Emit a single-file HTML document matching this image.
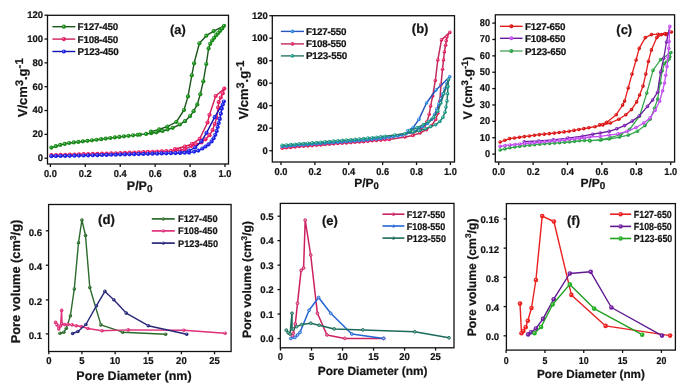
<!DOCTYPE html>
<html><head><meta charset="utf-8"><style>
html,body{margin:0;padding:0;background:#fff;}
svg{display:block;font-family:"Liberation Sans", sans-serif;filter:blur(0.3px);}
text{stroke:#141414;stroke-width:0.22px;text-rendering:geometricPrecision;}
</style></head><body>
<svg width="685" height="391" viewBox="0 0 685 391">
<rect width="685" height="391" fill="#fff"/>
<rect x="47.5" y="15.3" width="181" height="148.7" fill="none" stroke="#111" stroke-width="1.3"/>
<line x1="44.5" y1="158.2" x2="47.5" y2="158.2" stroke="#111" stroke-width="1.3"/>
<text x="43" y="161.1" font-size="9.5" text-anchor="end" font-weight="bold" fill="#141414">0</text>
<line x1="44.5" y1="134.37" x2="47.5" y2="134.37" stroke="#111" stroke-width="1.3"/>
<text x="43" y="137.27" font-size="9.5" text-anchor="end" font-weight="bold" fill="#141414">20</text>
<line x1="44.5" y1="110.53" x2="47.5" y2="110.53" stroke="#111" stroke-width="1.3"/>
<text x="43" y="113.43" font-size="9.5" text-anchor="end" font-weight="bold" fill="#141414">40</text>
<line x1="44.5" y1="86.7" x2="47.5" y2="86.7" stroke="#111" stroke-width="1.3"/>
<text x="43" y="89.6" font-size="9.5" text-anchor="end" font-weight="bold" fill="#141414">60</text>
<line x1="44.5" y1="62.86" x2="47.5" y2="62.86" stroke="#111" stroke-width="1.3"/>
<text x="43" y="65.76" font-size="9.5" text-anchor="end" font-weight="bold" fill="#141414">80</text>
<line x1="44.5" y1="39.03" x2="47.5" y2="39.03" stroke="#111" stroke-width="1.3"/>
<text x="43" y="41.93" font-size="9.5" text-anchor="end" font-weight="bold" fill="#141414">100</text>
<line x1="44.5" y1="15.2" x2="47.5" y2="15.2" stroke="#111" stroke-width="1.3"/>
<text x="43" y="18.1" font-size="9.5" text-anchor="end" font-weight="bold" fill="#141414">120</text>
<line x1="50.4" y1="164" x2="50.4" y2="167" stroke="#111" stroke-width="1.3"/>
<text x="0" y="0" font-size="10" text-anchor="middle" font-weight="bold" fill="#141414" transform="translate(50.4 176.7) scale(0.93 1)">0.0</text>
<line x1="85.32" y1="164" x2="85.32" y2="167" stroke="#111" stroke-width="1.3"/>
<text x="0" y="0" font-size="10" text-anchor="middle" font-weight="bold" fill="#141414" transform="translate(85.32 176.7) scale(0.93 1)">0.2</text>
<line x1="120.24" y1="164" x2="120.24" y2="167" stroke="#111" stroke-width="1.3"/>
<text x="0" y="0" font-size="10" text-anchor="middle" font-weight="bold" fill="#141414" transform="translate(120.24 176.7) scale(0.93 1)">0.4</text>
<line x1="155.16" y1="164" x2="155.16" y2="167" stroke="#111" stroke-width="1.3"/>
<text x="0" y="0" font-size="10" text-anchor="middle" font-weight="bold" fill="#141414" transform="translate(155.16 176.7) scale(0.93 1)">0.6</text>
<line x1="190.08" y1="164" x2="190.08" y2="167" stroke="#111" stroke-width="1.3"/>
<text x="0" y="0" font-size="10" text-anchor="middle" font-weight="bold" fill="#141414" transform="translate(190.08 176.7) scale(0.93 1)">0.8</text>
<line x1="225" y1="164" x2="225" y2="167" stroke="#111" stroke-width="1.3"/>
<text x="0" y="0" font-size="10" text-anchor="middle" font-weight="bold" fill="#141414" transform="translate(225 176.7) scale(0.93 1)">1.0</text>
<text x="126.8" y="189.5" font-size="12.5" text-anchor="start" font-weight="bold" fill="#141414">P/P<tspan font-size="10" dy="2.3">0</tspan></text>
<text x="0" y="0" font-size="13" text-anchor="middle" font-weight="bold" fill="#141414" transform="translate(27.2 87.7) rotate(-90)">V/cm<tspan font-size="11" dy="-4.2">3</tspan><tspan dy="4.2">.g</tspan><tspan font-size="11.5" dy="-4.2">-1</tspan></text>
<text x="170" y="33.7" font-size="12.8" text-anchor="start" font-weight="bold" fill="#141414">(a)</text>
<polyline points="51.4,147.6 58.3,145.4 69,143 84.3,141.2 99.7,139.4 115,137.4 130.4,135.6 140,134.6 146.1,133.9 151.2,133.2 156.4,132.3 162.5,131 167.6,129.5 172.7,127.8 179.9,124.5 185,121.2 190.1,116.1 193.6,111.2 197.3,104.4 200.3,94.2 203.3,81.3 206.3,64 208.6,48.4 210.2,43.8 212.2,40.5 214.2,37.8 216.2,35.2 218.2,33 220.2,30.8 222.2,28.5 224,25.8" fill="none" stroke="#1c561c" stroke-width="1.4" stroke-linejoin="round"/>
<polyline points="224,25.8 213.7,31.1 206.3,35.7 199.4,43.3 194.1,63.3 191.8,75.3 188,96.4 184,110 176.4,121.8 167.4,126.5 159.2,129.4 151,131.6" fill="none" stroke="#1c561c" stroke-width="1.4" stroke-linejoin="round"/>
<circle cx="51.4" cy="147.6" r="2.1" fill="#178a17"/>
<circle cx="50.9" cy="147.1" r="0.7" fill="#a8e4a8" fill-opacity="0.8"/>
<circle cx="55.78" cy="146.2" r="2.1" fill="#178a17"/>
<circle cx="55.28" cy="145.7" r="0.7" fill="#a8e4a8" fill-opacity="0.8"/>
<circle cx="60.21" cy="144.97" r="2.1" fill="#178a17"/>
<circle cx="59.71" cy="144.47" r="0.7" fill="#a8e4a8" fill-opacity="0.8"/>
<circle cx="64.7" cy="143.96" r="2.1" fill="#178a17"/>
<circle cx="64.2" cy="143.46" r="0.7" fill="#a8e4a8" fill-opacity="0.8"/>
<circle cx="69.19" cy="142.98" r="2.1" fill="#178a17"/>
<circle cx="68.69" cy="142.48" r="0.7" fill="#a8e4a8" fill-opacity="0.8"/>
<circle cx="73.76" cy="142.44" r="2.1" fill="#178a17"/>
<circle cx="73.26" cy="141.94" r="0.7" fill="#a8e4a8" fill-opacity="0.8"/>
<circle cx="78.33" cy="141.9" r="2.1" fill="#178a17"/>
<circle cx="77.83" cy="141.4" r="0.7" fill="#a8e4a8" fill-opacity="0.8"/>
<circle cx="82.9" cy="141.37" r="2.1" fill="#178a17"/>
<circle cx="82.4" cy="140.87" r="0.7" fill="#a8e4a8" fill-opacity="0.8"/>
<circle cx="87.46" cy="140.83" r="2.1" fill="#178a17"/>
<circle cx="86.96" cy="140.33" r="0.7" fill="#a8e4a8" fill-opacity="0.8"/>
<circle cx="92.03" cy="140.3" r="2.1" fill="#178a17"/>
<circle cx="91.53" cy="139.8" r="0.7" fill="#a8e4a8" fill-opacity="0.8"/>
<circle cx="96.6" cy="139.76" r="2.1" fill="#178a17"/>
<circle cx="96.1" cy="139.26" r="0.7" fill="#a8e4a8" fill-opacity="0.8"/>
<circle cx="101.17" cy="139.21" r="2.1" fill="#178a17"/>
<circle cx="100.67" cy="138.71" r="0.7" fill="#a8e4a8" fill-opacity="0.8"/>
<circle cx="105.73" cy="138.61" r="2.1" fill="#178a17"/>
<circle cx="105.23" cy="138.11" r="0.7" fill="#a8e4a8" fill-opacity="0.8"/>
<circle cx="110.29" cy="138.02" r="2.1" fill="#178a17"/>
<circle cx="109.79" cy="137.52" r="0.7" fill="#a8e4a8" fill-opacity="0.8"/>
<circle cx="114.85" cy="137.42" r="2.1" fill="#178a17"/>
<circle cx="114.35" cy="136.92" r="0.7" fill="#a8e4a8" fill-opacity="0.8"/>
<circle cx="119.42" cy="136.88" r="2.1" fill="#178a17"/>
<circle cx="118.92" cy="136.38" r="0.7" fill="#a8e4a8" fill-opacity="0.8"/>
<circle cx="123.99" cy="136.35" r="2.1" fill="#178a17"/>
<circle cx="123.49" cy="135.85" r="0.7" fill="#a8e4a8" fill-opacity="0.8"/>
<circle cx="128.56" cy="135.82" r="2.1" fill="#178a17"/>
<circle cx="128.06" cy="135.32" r="0.7" fill="#a8e4a8" fill-opacity="0.8"/>
<circle cx="133.13" cy="135.32" r="2.1" fill="#178a17"/>
<circle cx="132.63" cy="134.82" r="0.7" fill="#a8e4a8" fill-opacity="0.8"/>
<circle cx="137.71" cy="134.84" r="2.1" fill="#178a17"/>
<circle cx="137.21" cy="134.34" r="0.7" fill="#a8e4a8" fill-opacity="0.8"/>
<circle cx="140" cy="134.6" r="2.1" fill="#178a17"/>
<circle cx="139.5" cy="134.1" r="0.7" fill="#a8e4a8" fill-opacity="0.8"/>
<circle cx="146.1" cy="133.9" r="2.1" fill="#178a17"/>
<circle cx="145.6" cy="133.4" r="0.7" fill="#a8e4a8" fill-opacity="0.8"/>
<circle cx="151.2" cy="133.2" r="2.1" fill="#178a17"/>
<circle cx="150.7" cy="132.7" r="0.7" fill="#a8e4a8" fill-opacity="0.8"/>
<circle cx="156.4" cy="132.3" r="2.1" fill="#178a17"/>
<circle cx="155.9" cy="131.8" r="0.7" fill="#a8e4a8" fill-opacity="0.8"/>
<circle cx="162.5" cy="131" r="2.1" fill="#178a17"/>
<circle cx="162" cy="130.5" r="0.7" fill="#a8e4a8" fill-opacity="0.8"/>
<circle cx="167.6" cy="129.5" r="2.1" fill="#178a17"/>
<circle cx="167.1" cy="129" r="0.7" fill="#a8e4a8" fill-opacity="0.8"/>
<circle cx="172.7" cy="127.8" r="2.1" fill="#178a17"/>
<circle cx="172.2" cy="127.3" r="0.7" fill="#a8e4a8" fill-opacity="0.8"/>
<circle cx="179.9" cy="124.5" r="2.1" fill="#178a17"/>
<circle cx="179.4" cy="124" r="0.7" fill="#a8e4a8" fill-opacity="0.8"/>
<circle cx="185" cy="121.2" r="2.1" fill="#178a17"/>
<circle cx="184.5" cy="120.7" r="0.7" fill="#a8e4a8" fill-opacity="0.8"/>
<circle cx="190.1" cy="116.1" r="2.1" fill="#178a17"/>
<circle cx="189.6" cy="115.6" r="0.7" fill="#a8e4a8" fill-opacity="0.8"/>
<circle cx="193.6" cy="111.2" r="2.1" fill="#178a17"/>
<circle cx="193.1" cy="110.7" r="0.7" fill="#a8e4a8" fill-opacity="0.8"/>
<circle cx="197.3" cy="104.4" r="2.1" fill="#178a17"/>
<circle cx="196.8" cy="103.9" r="0.7" fill="#a8e4a8" fill-opacity="0.8"/>
<circle cx="200.3" cy="94.2" r="2.1" fill="#178a17"/>
<circle cx="199.8" cy="93.7" r="0.7" fill="#a8e4a8" fill-opacity="0.8"/>
<circle cx="203.3" cy="81.3" r="2.1" fill="#178a17"/>
<circle cx="202.8" cy="80.8" r="0.7" fill="#a8e4a8" fill-opacity="0.8"/>
<circle cx="206.3" cy="64" r="2.1" fill="#178a17"/>
<circle cx="205.8" cy="63.5" r="0.7" fill="#a8e4a8" fill-opacity="0.8"/>
<circle cx="208.6" cy="48.4" r="2.1" fill="#178a17"/>
<circle cx="208.1" cy="47.9" r="0.7" fill="#a8e4a8" fill-opacity="0.8"/>
<circle cx="210.2" cy="43.8" r="2.1" fill="#178a17"/>
<circle cx="209.7" cy="43.3" r="0.7" fill="#a8e4a8" fill-opacity="0.8"/>
<circle cx="212.2" cy="40.5" r="2.1" fill="#178a17"/>
<circle cx="211.7" cy="40" r="0.7" fill="#a8e4a8" fill-opacity="0.8"/>
<circle cx="214.2" cy="37.8" r="2.1" fill="#178a17"/>
<circle cx="213.7" cy="37.3" r="0.7" fill="#a8e4a8" fill-opacity="0.8"/>
<circle cx="216.2" cy="35.2" r="2.1" fill="#178a17"/>
<circle cx="215.7" cy="34.7" r="0.7" fill="#a8e4a8" fill-opacity="0.8"/>
<circle cx="218.2" cy="33" r="2.1" fill="#178a17"/>
<circle cx="217.7" cy="32.5" r="0.7" fill="#a8e4a8" fill-opacity="0.8"/>
<circle cx="220.2" cy="30.8" r="2.1" fill="#178a17"/>
<circle cx="219.7" cy="30.3" r="0.7" fill="#a8e4a8" fill-opacity="0.8"/>
<circle cx="222.2" cy="28.5" r="2.1" fill="#178a17"/>
<circle cx="221.7" cy="28" r="0.7" fill="#a8e4a8" fill-opacity="0.8"/>
<circle cx="224" cy="25.8" r="2.1" fill="#178a17"/>
<circle cx="223.5" cy="25.3" r="0.7" fill="#a8e4a8" fill-opacity="0.8"/>
<circle cx="213.7" cy="31.1" r="2.1" fill="#178a17"/>
<circle cx="213.2" cy="30.6" r="0.7" fill="#a8e4a8" fill-opacity="0.8"/>
<circle cx="206.3" cy="35.7" r="2.1" fill="#178a17"/>
<circle cx="205.8" cy="35.2" r="0.7" fill="#a8e4a8" fill-opacity="0.8"/>
<circle cx="199.4" cy="43.3" r="2.1" fill="#178a17"/>
<circle cx="198.9" cy="42.8" r="0.7" fill="#a8e4a8" fill-opacity="0.8"/>
<circle cx="194.1" cy="63.3" r="2.1" fill="#178a17"/>
<circle cx="193.6" cy="62.8" r="0.7" fill="#a8e4a8" fill-opacity="0.8"/>
<circle cx="191.8" cy="75.3" r="2.1" fill="#178a17"/>
<circle cx="191.3" cy="74.8" r="0.7" fill="#a8e4a8" fill-opacity="0.8"/>
<circle cx="188" cy="96.4" r="2.1" fill="#178a17"/>
<circle cx="187.5" cy="95.9" r="0.7" fill="#a8e4a8" fill-opacity="0.8"/>
<circle cx="184" cy="110" r="2.1" fill="#178a17"/>
<circle cx="183.5" cy="109.5" r="0.7" fill="#a8e4a8" fill-opacity="0.8"/>
<circle cx="176.4" cy="121.8" r="2.1" fill="#178a17"/>
<circle cx="175.9" cy="121.3" r="0.7" fill="#a8e4a8" fill-opacity="0.8"/>
<circle cx="167.4" cy="126.5" r="2.1" fill="#178a17"/>
<circle cx="166.9" cy="126" r="0.7" fill="#a8e4a8" fill-opacity="0.8"/>
<circle cx="159.2" cy="129.4" r="2.1" fill="#178a17"/>
<circle cx="158.7" cy="128.9" r="0.7" fill="#a8e4a8" fill-opacity="0.8"/>
<circle cx="151" cy="131.6" r="2.1" fill="#178a17"/>
<circle cx="150.5" cy="131.1" r="0.7" fill="#a8e4a8" fill-opacity="0.8"/>
<polyline points="51.4,155.2 80,154.3 110,153.5 140,152.3 170,151 185,149.5 191.1,145.9 196.2,144.4 201.4,142.4 205.5,139.3 209.5,135.2 212.6,130.1 214.7,124 216.7,117.8 218.1,107.6 218.7,102.1 220.8,97.5 222.8,93.3 224.3,88.6" fill="none" stroke="#cc2058" stroke-width="1.4" stroke-linejoin="round"/>
<polyline points="224.3,88.6 215.7,96 209.5,114.8 207.5,122.5 199.7,138.9 192.2,143.8 185,146.5 175,149" fill="none" stroke="#cc2058" stroke-width="1.4" stroke-linejoin="round"/>
<circle cx="51.4" cy="155.2" r="2.1" fill="#ea1c64"/>
<circle cx="50.9" cy="154.7" r="0.7" fill="#ffc0d4" fill-opacity="0.8"/>
<circle cx="56" cy="155.06" r="2.1" fill="#ea1c64"/>
<circle cx="55.5" cy="154.56" r="0.7" fill="#ffc0d4" fill-opacity="0.8"/>
<circle cx="60.6" cy="154.91" r="2.1" fill="#ea1c64"/>
<circle cx="60.1" cy="154.41" r="0.7" fill="#ffc0d4" fill-opacity="0.8"/>
<circle cx="65.19" cy="154.77" r="2.1" fill="#ea1c64"/>
<circle cx="64.69" cy="154.27" r="0.7" fill="#ffc0d4" fill-opacity="0.8"/>
<circle cx="69.79" cy="154.62" r="2.1" fill="#ea1c64"/>
<circle cx="69.29" cy="154.12" r="0.7" fill="#ffc0d4" fill-opacity="0.8"/>
<circle cx="74.39" cy="154.48" r="2.1" fill="#ea1c64"/>
<circle cx="73.89" cy="153.98" r="0.7" fill="#ffc0d4" fill-opacity="0.8"/>
<circle cx="78.99" cy="154.33" r="2.1" fill="#ea1c64"/>
<circle cx="78.49" cy="153.83" r="0.7" fill="#ffc0d4" fill-opacity="0.8"/>
<circle cx="83.58" cy="154.2" r="2.1" fill="#ea1c64"/>
<circle cx="83.08" cy="153.7" r="0.7" fill="#ffc0d4" fill-opacity="0.8"/>
<circle cx="88.18" cy="154.08" r="2.1" fill="#ea1c64"/>
<circle cx="87.68" cy="153.58" r="0.7" fill="#ffc0d4" fill-opacity="0.8"/>
<circle cx="92.78" cy="153.96" r="2.1" fill="#ea1c64"/>
<circle cx="92.28" cy="153.46" r="0.7" fill="#ffc0d4" fill-opacity="0.8"/>
<circle cx="97.38" cy="153.84" r="2.1" fill="#ea1c64"/>
<circle cx="96.88" cy="153.34" r="0.7" fill="#ffc0d4" fill-opacity="0.8"/>
<circle cx="101.98" cy="153.71" r="2.1" fill="#ea1c64"/>
<circle cx="101.48" cy="153.21" r="0.7" fill="#ffc0d4" fill-opacity="0.8"/>
<circle cx="106.58" cy="153.59" r="2.1" fill="#ea1c64"/>
<circle cx="106.08" cy="153.09" r="0.7" fill="#ffc0d4" fill-opacity="0.8"/>
<circle cx="111.17" cy="153.45" r="2.1" fill="#ea1c64"/>
<circle cx="110.67" cy="152.95" r="0.7" fill="#ffc0d4" fill-opacity="0.8"/>
<circle cx="115.77" cy="153.27" r="2.1" fill="#ea1c64"/>
<circle cx="115.27" cy="152.77" r="0.7" fill="#ffc0d4" fill-opacity="0.8"/>
<circle cx="120.37" cy="153.09" r="2.1" fill="#ea1c64"/>
<circle cx="119.87" cy="152.59" r="0.7" fill="#ffc0d4" fill-opacity="0.8"/>
<circle cx="124.96" cy="152.9" r="2.1" fill="#ea1c64"/>
<circle cx="124.46" cy="152.4" r="0.7" fill="#ffc0d4" fill-opacity="0.8"/>
<circle cx="129.56" cy="152.72" r="2.1" fill="#ea1c64"/>
<circle cx="129.06" cy="152.22" r="0.7" fill="#ffc0d4" fill-opacity="0.8"/>
<circle cx="134.16" cy="152.53" r="2.1" fill="#ea1c64"/>
<circle cx="133.66" cy="152.03" r="0.7" fill="#ffc0d4" fill-opacity="0.8"/>
<circle cx="138.75" cy="152.35" r="2.1" fill="#ea1c64"/>
<circle cx="138.25" cy="151.85" r="0.7" fill="#ffc0d4" fill-opacity="0.8"/>
<circle cx="143.35" cy="152.15" r="2.1" fill="#ea1c64"/>
<circle cx="142.85" cy="151.65" r="0.7" fill="#ffc0d4" fill-opacity="0.8"/>
<circle cx="147.94" cy="151.96" r="2.1" fill="#ea1c64"/>
<circle cx="147.44" cy="151.46" r="0.7" fill="#ffc0d4" fill-opacity="0.8"/>
<circle cx="152.54" cy="151.76" r="2.1" fill="#ea1c64"/>
<circle cx="152.04" cy="151.26" r="0.7" fill="#ffc0d4" fill-opacity="0.8"/>
<circle cx="157.14" cy="151.56" r="2.1" fill="#ea1c64"/>
<circle cx="156.64" cy="151.06" r="0.7" fill="#ffc0d4" fill-opacity="0.8"/>
<circle cx="161.73" cy="151.36" r="2.1" fill="#ea1c64"/>
<circle cx="161.23" cy="150.86" r="0.7" fill="#ffc0d4" fill-opacity="0.8"/>
<circle cx="166.33" cy="151.16" r="2.1" fill="#ea1c64"/>
<circle cx="165.83" cy="150.66" r="0.7" fill="#ffc0d4" fill-opacity="0.8"/>
<circle cx="170.92" cy="150.91" r="2.1" fill="#ea1c64"/>
<circle cx="170.42" cy="150.41" r="0.7" fill="#ffc0d4" fill-opacity="0.8"/>
<circle cx="175.5" cy="150.45" r="2.1" fill="#ea1c64"/>
<circle cx="175" cy="149.95" r="0.7" fill="#ffc0d4" fill-opacity="0.8"/>
<circle cx="180.07" cy="149.99" r="2.1" fill="#ea1c64"/>
<circle cx="179.57" cy="149.49" r="0.7" fill="#ffc0d4" fill-opacity="0.8"/>
<circle cx="184.65" cy="149.54" r="2.1" fill="#ea1c64"/>
<circle cx="184.15" cy="149.04" r="0.7" fill="#ffc0d4" fill-opacity="0.8"/>
<circle cx="191.1" cy="145.9" r="2.1" fill="#ea1c64"/>
<circle cx="190.6" cy="145.4" r="0.7" fill="#ffc0d4" fill-opacity="0.8"/>
<circle cx="196.2" cy="144.4" r="2.1" fill="#ea1c64"/>
<circle cx="195.7" cy="143.9" r="0.7" fill="#ffc0d4" fill-opacity="0.8"/>
<circle cx="201.4" cy="142.4" r="2.1" fill="#ea1c64"/>
<circle cx="200.9" cy="141.9" r="0.7" fill="#ffc0d4" fill-opacity="0.8"/>
<circle cx="205.5" cy="139.3" r="2.1" fill="#ea1c64"/>
<circle cx="205" cy="138.8" r="0.7" fill="#ffc0d4" fill-opacity="0.8"/>
<circle cx="209.5" cy="135.2" r="2.1" fill="#ea1c64"/>
<circle cx="209" cy="134.7" r="0.7" fill="#ffc0d4" fill-opacity="0.8"/>
<circle cx="212.6" cy="130.1" r="2.1" fill="#ea1c64"/>
<circle cx="212.1" cy="129.6" r="0.7" fill="#ffc0d4" fill-opacity="0.8"/>
<circle cx="214.7" cy="124" r="2.1" fill="#ea1c64"/>
<circle cx="214.2" cy="123.5" r="0.7" fill="#ffc0d4" fill-opacity="0.8"/>
<circle cx="216.7" cy="117.8" r="2.1" fill="#ea1c64"/>
<circle cx="216.2" cy="117.3" r="0.7" fill="#ffc0d4" fill-opacity="0.8"/>
<circle cx="218.1" cy="107.6" r="2.1" fill="#ea1c64"/>
<circle cx="217.6" cy="107.1" r="0.7" fill="#ffc0d4" fill-opacity="0.8"/>
<circle cx="218.7" cy="102.1" r="2.1" fill="#ea1c64"/>
<circle cx="218.2" cy="101.6" r="0.7" fill="#ffc0d4" fill-opacity="0.8"/>
<circle cx="220.8" cy="97.5" r="2.1" fill="#ea1c64"/>
<circle cx="220.3" cy="97" r="0.7" fill="#ffc0d4" fill-opacity="0.8"/>
<circle cx="222.8" cy="93.3" r="2.1" fill="#ea1c64"/>
<circle cx="222.3" cy="92.8" r="0.7" fill="#ffc0d4" fill-opacity="0.8"/>
<circle cx="224.3" cy="88.6" r="2.1" fill="#ea1c64"/>
<circle cx="223.8" cy="88.1" r="0.7" fill="#ffc0d4" fill-opacity="0.8"/>
<circle cx="215.7" cy="96" r="2.1" fill="#ea1c64"/>
<circle cx="215.2" cy="95.5" r="0.7" fill="#ffc0d4" fill-opacity="0.8"/>
<circle cx="209.5" cy="114.8" r="2.1" fill="#ea1c64"/>
<circle cx="209" cy="114.3" r="0.7" fill="#ffc0d4" fill-opacity="0.8"/>
<circle cx="207.5" cy="122.5" r="2.1" fill="#ea1c64"/>
<circle cx="207" cy="122" r="0.7" fill="#ffc0d4" fill-opacity="0.8"/>
<circle cx="199.7" cy="138.9" r="2.1" fill="#ea1c64"/>
<circle cx="199.2" cy="138.4" r="0.7" fill="#ffc0d4" fill-opacity="0.8"/>
<circle cx="192.2" cy="143.8" r="2.1" fill="#ea1c64"/>
<circle cx="191.7" cy="143.3" r="0.7" fill="#ffc0d4" fill-opacity="0.8"/>
<circle cx="185" cy="146.5" r="2.1" fill="#ea1c64"/>
<circle cx="184.5" cy="146" r="0.7" fill="#ffc0d4" fill-opacity="0.8"/>
<circle cx="175" cy="149" r="2.1" fill="#ea1c64"/>
<circle cx="174.5" cy="148.5" r="0.7" fill="#ffc0d4" fill-opacity="0.8"/>
<polyline points="51.4,156.2 80,155.6 110,154.8 140,154 170,153.2 189.1,152.6 194.2,151.6 198.3,150.6 202.4,148.5 205.5,146.5 208.5,144.4 211.6,141.4 213.6,138.3 215.3,134.8 216.7,131.1 217.7,127 218.7,123 219.8,118.9 220.8,113.7 221.8,108.6 222.8,104.5 223.9,101.5" fill="none" stroke="#1212b4" stroke-width="1.4" stroke-linejoin="round"/>
<polyline points="223.9,101.5 214.7,117.2 206.5,132.8 201.4,141.4 195.2,147.5 189.1,150.6 180,152.5" fill="none" stroke="#1212b4" stroke-width="1.4" stroke-linejoin="round"/>
<circle cx="51.4" cy="156.2" r="2.1" fill="#1e22e6"/>
<circle cx="50.9" cy="155.7" r="0.7" fill="#b0b8ff" fill-opacity="0.8"/>
<circle cx="56" cy="156.1" r="2.1" fill="#1e22e6"/>
<circle cx="55.5" cy="155.6" r="0.7" fill="#b0b8ff" fill-opacity="0.8"/>
<circle cx="60.6" cy="156.01" r="2.1" fill="#1e22e6"/>
<circle cx="60.1" cy="155.51" r="0.7" fill="#b0b8ff" fill-opacity="0.8"/>
<circle cx="65.2" cy="155.91" r="2.1" fill="#1e22e6"/>
<circle cx="64.7" cy="155.41" r="0.7" fill="#b0b8ff" fill-opacity="0.8"/>
<circle cx="69.8" cy="155.81" r="2.1" fill="#1e22e6"/>
<circle cx="69.3" cy="155.31" r="0.7" fill="#b0b8ff" fill-opacity="0.8"/>
<circle cx="74.39" cy="155.72" r="2.1" fill="#1e22e6"/>
<circle cx="73.89" cy="155.22" r="0.7" fill="#b0b8ff" fill-opacity="0.8"/>
<circle cx="78.99" cy="155.62" r="2.1" fill="#1e22e6"/>
<circle cx="78.49" cy="155.12" r="0.7" fill="#b0b8ff" fill-opacity="0.8"/>
<circle cx="83.59" cy="155.5" r="2.1" fill="#1e22e6"/>
<circle cx="83.09" cy="155" r="0.7" fill="#b0b8ff" fill-opacity="0.8"/>
<circle cx="88.19" cy="155.38" r="2.1" fill="#1e22e6"/>
<circle cx="87.69" cy="154.88" r="0.7" fill="#b0b8ff" fill-opacity="0.8"/>
<circle cx="92.79" cy="155.26" r="2.1" fill="#1e22e6"/>
<circle cx="92.29" cy="154.76" r="0.7" fill="#b0b8ff" fill-opacity="0.8"/>
<circle cx="97.39" cy="155.14" r="2.1" fill="#1e22e6"/>
<circle cx="96.89" cy="154.64" r="0.7" fill="#b0b8ff" fill-opacity="0.8"/>
<circle cx="101.99" cy="155.01" r="2.1" fill="#1e22e6"/>
<circle cx="101.49" cy="154.51" r="0.7" fill="#b0b8ff" fill-opacity="0.8"/>
<circle cx="106.58" cy="154.89" r="2.1" fill="#1e22e6"/>
<circle cx="106.08" cy="154.39" r="0.7" fill="#b0b8ff" fill-opacity="0.8"/>
<circle cx="111.18" cy="154.77" r="2.1" fill="#1e22e6"/>
<circle cx="110.68" cy="154.27" r="0.7" fill="#b0b8ff" fill-opacity="0.8"/>
<circle cx="115.78" cy="154.65" r="2.1" fill="#1e22e6"/>
<circle cx="115.28" cy="154.15" r="0.7" fill="#b0b8ff" fill-opacity="0.8"/>
<circle cx="120.38" cy="154.52" r="2.1" fill="#1e22e6"/>
<circle cx="119.88" cy="154.02" r="0.7" fill="#b0b8ff" fill-opacity="0.8"/>
<circle cx="124.98" cy="154.4" r="2.1" fill="#1e22e6"/>
<circle cx="124.48" cy="153.9" r="0.7" fill="#b0b8ff" fill-opacity="0.8"/>
<circle cx="129.58" cy="154.28" r="2.1" fill="#1e22e6"/>
<circle cx="129.08" cy="153.78" r="0.7" fill="#b0b8ff" fill-opacity="0.8"/>
<circle cx="134.17" cy="154.16" r="2.1" fill="#1e22e6"/>
<circle cx="133.67" cy="153.66" r="0.7" fill="#b0b8ff" fill-opacity="0.8"/>
<circle cx="138.77" cy="154.03" r="2.1" fill="#1e22e6"/>
<circle cx="138.27" cy="153.53" r="0.7" fill="#b0b8ff" fill-opacity="0.8"/>
<circle cx="143.37" cy="153.91" r="2.1" fill="#1e22e6"/>
<circle cx="142.87" cy="153.41" r="0.7" fill="#b0b8ff" fill-opacity="0.8"/>
<circle cx="147.97" cy="153.79" r="2.1" fill="#1e22e6"/>
<circle cx="147.47" cy="153.29" r="0.7" fill="#b0b8ff" fill-opacity="0.8"/>
<circle cx="152.57" cy="153.66" r="2.1" fill="#1e22e6"/>
<circle cx="152.07" cy="153.16" r="0.7" fill="#b0b8ff" fill-opacity="0.8"/>
<circle cx="157.17" cy="153.54" r="2.1" fill="#1e22e6"/>
<circle cx="156.67" cy="153.04" r="0.7" fill="#b0b8ff" fill-opacity="0.8"/>
<circle cx="161.76" cy="153.42" r="2.1" fill="#1e22e6"/>
<circle cx="161.26" cy="152.92" r="0.7" fill="#b0b8ff" fill-opacity="0.8"/>
<circle cx="166.36" cy="153.3" r="2.1" fill="#1e22e6"/>
<circle cx="165.86" cy="152.8" r="0.7" fill="#b0b8ff" fill-opacity="0.8"/>
<circle cx="170.96" cy="153.17" r="2.1" fill="#1e22e6"/>
<circle cx="170.46" cy="152.67" r="0.7" fill="#b0b8ff" fill-opacity="0.8"/>
<circle cx="175.56" cy="153.03" r="2.1" fill="#1e22e6"/>
<circle cx="175.06" cy="152.53" r="0.7" fill="#b0b8ff" fill-opacity="0.8"/>
<circle cx="180.16" cy="152.88" r="2.1" fill="#1e22e6"/>
<circle cx="179.66" cy="152.38" r="0.7" fill="#b0b8ff" fill-opacity="0.8"/>
<circle cx="184.75" cy="152.74" r="2.1" fill="#1e22e6"/>
<circle cx="184.25" cy="152.24" r="0.7" fill="#b0b8ff" fill-opacity="0.8"/>
<circle cx="189.1" cy="152.6" r="2.1" fill="#1e22e6"/>
<circle cx="188.6" cy="152.1" r="0.7" fill="#b0b8ff" fill-opacity="0.8"/>
<circle cx="194.2" cy="151.6" r="2.1" fill="#1e22e6"/>
<circle cx="193.7" cy="151.1" r="0.7" fill="#b0b8ff" fill-opacity="0.8"/>
<circle cx="198.3" cy="150.6" r="2.1" fill="#1e22e6"/>
<circle cx="197.8" cy="150.1" r="0.7" fill="#b0b8ff" fill-opacity="0.8"/>
<circle cx="202.4" cy="148.5" r="2.1" fill="#1e22e6"/>
<circle cx="201.9" cy="148" r="0.7" fill="#b0b8ff" fill-opacity="0.8"/>
<circle cx="205.5" cy="146.5" r="2.1" fill="#1e22e6"/>
<circle cx="205" cy="146" r="0.7" fill="#b0b8ff" fill-opacity="0.8"/>
<circle cx="208.5" cy="144.4" r="2.1" fill="#1e22e6"/>
<circle cx="208" cy="143.9" r="0.7" fill="#b0b8ff" fill-opacity="0.8"/>
<circle cx="211.6" cy="141.4" r="2.1" fill="#1e22e6"/>
<circle cx="211.1" cy="140.9" r="0.7" fill="#b0b8ff" fill-opacity="0.8"/>
<circle cx="213.6" cy="138.3" r="2.1" fill="#1e22e6"/>
<circle cx="213.1" cy="137.8" r="0.7" fill="#b0b8ff" fill-opacity="0.8"/>
<circle cx="215.3" cy="134.8" r="2.1" fill="#1e22e6"/>
<circle cx="214.8" cy="134.3" r="0.7" fill="#b0b8ff" fill-opacity="0.8"/>
<circle cx="216.7" cy="131.1" r="2.1" fill="#1e22e6"/>
<circle cx="216.2" cy="130.6" r="0.7" fill="#b0b8ff" fill-opacity="0.8"/>
<circle cx="217.7" cy="127" r="2.1" fill="#1e22e6"/>
<circle cx="217.2" cy="126.5" r="0.7" fill="#b0b8ff" fill-opacity="0.8"/>
<circle cx="218.7" cy="123" r="2.1" fill="#1e22e6"/>
<circle cx="218.2" cy="122.5" r="0.7" fill="#b0b8ff" fill-opacity="0.8"/>
<circle cx="219.8" cy="118.9" r="2.1" fill="#1e22e6"/>
<circle cx="219.3" cy="118.4" r="0.7" fill="#b0b8ff" fill-opacity="0.8"/>
<circle cx="220.8" cy="113.7" r="2.1" fill="#1e22e6"/>
<circle cx="220.3" cy="113.2" r="0.7" fill="#b0b8ff" fill-opacity="0.8"/>
<circle cx="221.8" cy="108.6" r="2.1" fill="#1e22e6"/>
<circle cx="221.3" cy="108.1" r="0.7" fill="#b0b8ff" fill-opacity="0.8"/>
<circle cx="222.8" cy="104.5" r="2.1" fill="#1e22e6"/>
<circle cx="222.3" cy="104" r="0.7" fill="#b0b8ff" fill-opacity="0.8"/>
<circle cx="223.9" cy="101.5" r="2.1" fill="#1e22e6"/>
<circle cx="223.4" cy="101" r="0.7" fill="#b0b8ff" fill-opacity="0.8"/>
<circle cx="214.7" cy="117.2" r="2.1" fill="#1e22e6"/>
<circle cx="214.2" cy="116.7" r="0.7" fill="#b0b8ff" fill-opacity="0.8"/>
<circle cx="206.5" cy="132.8" r="2.1" fill="#1e22e6"/>
<circle cx="206" cy="132.3" r="0.7" fill="#b0b8ff" fill-opacity="0.8"/>
<circle cx="201.4" cy="141.4" r="2.1" fill="#1e22e6"/>
<circle cx="200.9" cy="140.9" r="0.7" fill="#b0b8ff" fill-opacity="0.8"/>
<circle cx="195.2" cy="147.5" r="2.1" fill="#1e22e6"/>
<circle cx="194.7" cy="147" r="0.7" fill="#b0b8ff" fill-opacity="0.8"/>
<circle cx="189.1" cy="150.6" r="2.1" fill="#1e22e6"/>
<circle cx="188.6" cy="150.1" r="0.7" fill="#b0b8ff" fill-opacity="0.8"/>
<circle cx="180" cy="152.5" r="2.1" fill="#1e22e6"/>
<circle cx="179.5" cy="152" r="0.7" fill="#b0b8ff" fill-opacity="0.8"/>
<line x1="52.4" y1="26.7" x2="75.3" y2="26.7" stroke="#1c561c" stroke-width="1.4"/>
<circle cx="63.85" cy="26.7" r="2.1" fill="#178a17"/>
<circle cx="63.35" cy="26.2" r="0.7" fill="#a8e4a8" fill-opacity="0.8"/>
<text x="77.6" y="30.2" font-size="9.8" text-anchor="start" font-weight="bold" fill="#141414" letter-spacing="-0.2">F127-450</text>
<line x1="52.4" y1="39.1" x2="75.3" y2="39.1" stroke="#cc2058" stroke-width="1.4"/>
<circle cx="63.85" cy="39.1" r="2.1" fill="#ea1c64"/>
<circle cx="63.35" cy="38.6" r="0.7" fill="#ffc0d4" fill-opacity="0.8"/>
<text x="77.6" y="42.6" font-size="9.8" text-anchor="start" font-weight="bold" fill="#141414" letter-spacing="-0.2">F108-450</text>
<line x1="52.4" y1="51.5" x2="75.3" y2="51.5" stroke="#1212b4" stroke-width="1.4"/>
<circle cx="63.85" cy="51.5" r="2.1" fill="#1e22e6"/>
<circle cx="63.35" cy="51" r="0.7" fill="#b0b8ff" fill-opacity="0.8"/>
<text x="77.6" y="55" font-size="9.8" text-anchor="start" font-weight="bold" fill="#141414" letter-spacing="-0.2">P123-450</text>
<rect x="272.3" y="15.7" width="182.2" height="146.3" fill="none" stroke="#111" stroke-width="1.3"/>
<line x1="269.3" y1="150.7" x2="272.3" y2="150.7" stroke="#111" stroke-width="1.3"/>
<text x="267.8" y="153.6" font-size="9.5" text-anchor="end" font-weight="bold" fill="#141414">0</text>
<line x1="269.3" y1="128.2" x2="272.3" y2="128.2" stroke="#111" stroke-width="1.3"/>
<text x="267.8" y="131.1" font-size="9.5" text-anchor="end" font-weight="bold" fill="#141414">20</text>
<line x1="269.3" y1="105.7" x2="272.3" y2="105.7" stroke="#111" stroke-width="1.3"/>
<text x="267.8" y="108.6" font-size="9.5" text-anchor="end" font-weight="bold" fill="#141414">40</text>
<line x1="269.3" y1="83.2" x2="272.3" y2="83.2" stroke="#111" stroke-width="1.3"/>
<text x="267.8" y="86.1" font-size="9.5" text-anchor="end" font-weight="bold" fill="#141414">60</text>
<line x1="269.3" y1="60.7" x2="272.3" y2="60.7" stroke="#111" stroke-width="1.3"/>
<text x="267.8" y="63.6" font-size="9.5" text-anchor="end" font-weight="bold" fill="#141414">80</text>
<line x1="269.3" y1="38.2" x2="272.3" y2="38.2" stroke="#111" stroke-width="1.3"/>
<text x="267.8" y="41.1" font-size="9.5" text-anchor="end" font-weight="bold" fill="#141414">100</text>
<line x1="269.3" y1="15.7" x2="272.3" y2="15.7" stroke="#111" stroke-width="1.3"/>
<text x="267.8" y="18.6" font-size="9.5" text-anchor="end" font-weight="bold" fill="#141414">120</text>
<line x1="281" y1="162" x2="281" y2="165" stroke="#111" stroke-width="1.3"/>
<text x="0" y="0" font-size="10" text-anchor="middle" font-weight="bold" fill="#141414" transform="translate(281 174.6) scale(0.93 1)">0.0</text>
<line x1="314.88" y1="162" x2="314.88" y2="165" stroke="#111" stroke-width="1.3"/>
<text x="0" y="0" font-size="10" text-anchor="middle" font-weight="bold" fill="#141414" transform="translate(314.88 174.6) scale(0.93 1)">0.2</text>
<line x1="348.76" y1="162" x2="348.76" y2="165" stroke="#111" stroke-width="1.3"/>
<text x="0" y="0" font-size="10" text-anchor="middle" font-weight="bold" fill="#141414" transform="translate(348.76 174.6) scale(0.93 1)">0.4</text>
<line x1="382.64" y1="162" x2="382.64" y2="165" stroke="#111" stroke-width="1.3"/>
<text x="0" y="0" font-size="10" text-anchor="middle" font-weight="bold" fill="#141414" transform="translate(382.64 174.6) scale(0.93 1)">0.6</text>
<line x1="416.52" y1="162" x2="416.52" y2="165" stroke="#111" stroke-width="1.3"/>
<text x="0" y="0" font-size="10" text-anchor="middle" font-weight="bold" fill="#141414" transform="translate(416.52 174.6) scale(0.93 1)">0.8</text>
<line x1="450.4" y1="162" x2="450.4" y2="165" stroke="#111" stroke-width="1.3"/>
<text x="0" y="0" font-size="10" text-anchor="middle" font-weight="bold" fill="#141414" transform="translate(450.4 174.6) scale(0.93 1)">1.0</text>
<text x="354.2" y="186.6" font-size="12" text-anchor="start" font-weight="bold" fill="#141414">P/P<tspan font-size="9.5" dy="2.3">0</tspan></text>
<text x="0" y="0" font-size="13" text-anchor="middle" font-weight="bold" fill="#141414" transform="translate(248.4 90.1) rotate(-90)">V/cm<tspan font-size="11" dy="-4.2">3</tspan><tspan dy="4.2">.g</tspan><tspan font-size="11.5" dy="-4.2">-1</tspan></text>
<text x="411.8" y="32.9" font-size="13" text-anchor="start" font-weight="bold" fill="#141414">(b)</text>
<polyline points="282.2,148.2 300,146.5 320,145 340,143.3 360,142 372,140.8 390.6,139.3 405,137 413,135.4 420,133 426.5,129.7 431.6,125.6 435.7,119.4 437.8,113.3 439.8,101 441,84.6 442.5,69.2 443.5,60 444.4,52 445.6,45.3 446.2,40.8 446.9,36.9 449.8,32.4" fill="none" stroke="#c02a5c" stroke-width="1.5" stroke-linejoin="round"/>
<polyline points="449.8,32.4 441.5,39.9 437.8,60 435.3,80.5 432.7,95.9 430.6,106.1 429.2,114.3 427.1,121.5 424.5,125.6 420.4,129.7 413,133" fill="none" stroke="#c02a5c" stroke-width="1.5" stroke-linejoin="round"/>
<circle cx="282.2" cy="148.2" r="1.8" fill="#e0205e"/>
<circle cx="281.7" cy="147.7" r="0.6" fill="#fff" fill-opacity="0.8"/>
<circle cx="286.48" cy="147.79" r="1.8" fill="#e0205e"/>
<circle cx="285.98" cy="147.29" r="0.6" fill="#fff" fill-opacity="0.8"/>
<circle cx="290.76" cy="147.38" r="1.8" fill="#e0205e"/>
<circle cx="290.26" cy="146.88" r="0.6" fill="#fff" fill-opacity="0.8"/>
<circle cx="295.04" cy="146.97" r="1.8" fill="#e0205e"/>
<circle cx="294.54" cy="146.47" r="0.6" fill="#fff" fill-opacity="0.8"/>
<circle cx="299.32" cy="146.56" r="1.8" fill="#e0205e"/>
<circle cx="298.82" cy="146.06" r="0.6" fill="#fff" fill-opacity="0.8"/>
<circle cx="303.61" cy="146.23" r="1.8" fill="#e0205e"/>
<circle cx="303.11" cy="145.73" r="0.6" fill="#fff" fill-opacity="0.8"/>
<circle cx="307.9" cy="145.91" r="1.8" fill="#e0205e"/>
<circle cx="307.4" cy="145.41" r="0.6" fill="#fff" fill-opacity="0.8"/>
<circle cx="312.18" cy="145.59" r="1.8" fill="#e0205e"/>
<circle cx="311.68" cy="145.09" r="0.6" fill="#fff" fill-opacity="0.8"/>
<circle cx="316.47" cy="145.26" r="1.8" fill="#e0205e"/>
<circle cx="315.97" cy="144.76" r="0.6" fill="#fff" fill-opacity="0.8"/>
<circle cx="320.76" cy="144.94" r="1.8" fill="#e0205e"/>
<circle cx="320.26" cy="144.44" r="0.6" fill="#fff" fill-opacity="0.8"/>
<circle cx="325.04" cy="144.57" r="1.8" fill="#e0205e"/>
<circle cx="324.54" cy="144.07" r="0.6" fill="#fff" fill-opacity="0.8"/>
<circle cx="329.33" cy="144.21" r="1.8" fill="#e0205e"/>
<circle cx="328.83" cy="143.71" r="0.6" fill="#fff" fill-opacity="0.8"/>
<circle cx="333.61" cy="143.84" r="1.8" fill="#e0205e"/>
<circle cx="333.11" cy="143.34" r="0.6" fill="#fff" fill-opacity="0.8"/>
<circle cx="337.9" cy="143.48" r="1.8" fill="#e0205e"/>
<circle cx="337.4" cy="142.98" r="0.6" fill="#fff" fill-opacity="0.8"/>
<circle cx="342.19" cy="143.16" r="1.8" fill="#e0205e"/>
<circle cx="341.69" cy="142.66" r="0.6" fill="#fff" fill-opacity="0.8"/>
<circle cx="346.48" cy="142.88" r="1.8" fill="#e0205e"/>
<circle cx="345.98" cy="142.38" r="0.6" fill="#fff" fill-opacity="0.8"/>
<circle cx="350.77" cy="142.6" r="1.8" fill="#e0205e"/>
<circle cx="350.27" cy="142.1" r="0.6" fill="#fff" fill-opacity="0.8"/>
<circle cx="355.06" cy="142.32" r="1.8" fill="#e0205e"/>
<circle cx="354.56" cy="141.82" r="0.6" fill="#fff" fill-opacity="0.8"/>
<circle cx="359.35" cy="142.04" r="1.8" fill="#e0205e"/>
<circle cx="358.85" cy="141.54" r="0.6" fill="#fff" fill-opacity="0.8"/>
<circle cx="363.63" cy="141.64" r="1.8" fill="#e0205e"/>
<circle cx="363.13" cy="141.14" r="0.6" fill="#fff" fill-opacity="0.8"/>
<circle cx="367.91" cy="141.21" r="1.8" fill="#e0205e"/>
<circle cx="367.41" cy="140.71" r="0.6" fill="#fff" fill-opacity="0.8"/>
<circle cx="372.19" cy="140.78" r="1.8" fill="#e0205e"/>
<circle cx="371.69" cy="140.28" r="0.6" fill="#fff" fill-opacity="0.8"/>
<circle cx="376.47" cy="140.44" r="1.8" fill="#e0205e"/>
<circle cx="375.97" cy="139.94" r="0.6" fill="#fff" fill-opacity="0.8"/>
<circle cx="380.76" cy="140.09" r="1.8" fill="#e0205e"/>
<circle cx="380.26" cy="139.59" r="0.6" fill="#fff" fill-opacity="0.8"/>
<circle cx="385.05" cy="139.75" r="1.8" fill="#e0205e"/>
<circle cx="384.55" cy="139.25" r="0.6" fill="#fff" fill-opacity="0.8"/>
<circle cx="389.33" cy="139.4" r="1.8" fill="#e0205e"/>
<circle cx="388.83" cy="138.9" r="0.6" fill="#fff" fill-opacity="0.8"/>
<circle cx="405" cy="137" r="1.8" fill="#e0205e"/>
<circle cx="404.5" cy="136.5" r="0.6" fill="#fff" fill-opacity="0.8"/>
<circle cx="413" cy="135.4" r="1.8" fill="#e0205e"/>
<circle cx="412.5" cy="134.9" r="0.6" fill="#fff" fill-opacity="0.8"/>
<circle cx="420" cy="133" r="1.8" fill="#e0205e"/>
<circle cx="419.5" cy="132.5" r="0.6" fill="#fff" fill-opacity="0.8"/>
<circle cx="426.5" cy="129.7" r="1.8" fill="#e0205e"/>
<circle cx="426" cy="129.2" r="0.6" fill="#fff" fill-opacity="0.8"/>
<circle cx="431.6" cy="125.6" r="1.8" fill="#e0205e"/>
<circle cx="431.1" cy="125.1" r="0.6" fill="#fff" fill-opacity="0.8"/>
<circle cx="435.7" cy="119.4" r="1.8" fill="#e0205e"/>
<circle cx="435.2" cy="118.9" r="0.6" fill="#fff" fill-opacity="0.8"/>
<circle cx="437.8" cy="113.3" r="1.8" fill="#e0205e"/>
<circle cx="437.3" cy="112.8" r="0.6" fill="#fff" fill-opacity="0.8"/>
<circle cx="439.8" cy="101" r="1.8" fill="#e0205e"/>
<circle cx="439.3" cy="100.5" r="0.6" fill="#fff" fill-opacity="0.8"/>
<circle cx="441" cy="84.6" r="1.8" fill="#e0205e"/>
<circle cx="440.5" cy="84.1" r="0.6" fill="#fff" fill-opacity="0.8"/>
<circle cx="442.5" cy="69.2" r="1.8" fill="#e0205e"/>
<circle cx="442" cy="68.7" r="0.6" fill="#fff" fill-opacity="0.8"/>
<circle cx="443.5" cy="60" r="1.8" fill="#e0205e"/>
<circle cx="443" cy="59.5" r="0.6" fill="#fff" fill-opacity="0.8"/>
<circle cx="444.4" cy="52" r="1.8" fill="#e0205e"/>
<circle cx="443.9" cy="51.5" r="0.6" fill="#fff" fill-opacity="0.8"/>
<circle cx="445.6" cy="45.3" r="1.8" fill="#e0205e"/>
<circle cx="445.1" cy="44.8" r="0.6" fill="#fff" fill-opacity="0.8"/>
<circle cx="446.2" cy="40.8" r="1.8" fill="#e0205e"/>
<circle cx="445.7" cy="40.3" r="0.6" fill="#fff" fill-opacity="0.8"/>
<circle cx="446.9" cy="36.9" r="1.8" fill="#e0205e"/>
<circle cx="446.4" cy="36.4" r="0.6" fill="#fff" fill-opacity="0.8"/>
<circle cx="449.8" cy="32.4" r="1.8" fill="#e0205e"/>
<circle cx="449.3" cy="31.9" r="0.6" fill="#fff" fill-opacity="0.8"/>
<circle cx="441.5" cy="39.9" r="1.8" fill="#e0205e"/>
<circle cx="441" cy="39.4" r="0.6" fill="#fff" fill-opacity="0.8"/>
<circle cx="437.8" cy="60" r="1.8" fill="#e0205e"/>
<circle cx="437.3" cy="59.5" r="0.6" fill="#fff" fill-opacity="0.8"/>
<circle cx="435.3" cy="80.5" r="1.8" fill="#e0205e"/>
<circle cx="434.8" cy="80" r="0.6" fill="#fff" fill-opacity="0.8"/>
<circle cx="432.7" cy="95.9" r="1.8" fill="#e0205e"/>
<circle cx="432.2" cy="95.4" r="0.6" fill="#fff" fill-opacity="0.8"/>
<circle cx="430.6" cy="106.1" r="1.8" fill="#e0205e"/>
<circle cx="430.1" cy="105.6" r="0.6" fill="#fff" fill-opacity="0.8"/>
<circle cx="429.2" cy="114.3" r="1.8" fill="#e0205e"/>
<circle cx="428.7" cy="113.8" r="0.6" fill="#fff" fill-opacity="0.8"/>
<circle cx="427.1" cy="121.5" r="1.8" fill="#e0205e"/>
<circle cx="426.6" cy="121" r="0.6" fill="#fff" fill-opacity="0.8"/>
<circle cx="424.5" cy="125.6" r="1.8" fill="#e0205e"/>
<circle cx="424" cy="125.1" r="0.6" fill="#fff" fill-opacity="0.8"/>
<circle cx="420.4" cy="129.7" r="1.8" fill="#e0205e"/>
<circle cx="419.9" cy="129.2" r="0.6" fill="#fff" fill-opacity="0.8"/>
<circle cx="413" cy="133" r="1.8" fill="#e0205e"/>
<circle cx="412.5" cy="132.5" r="0.6" fill="#fff" fill-opacity="0.8"/>
<polyline points="282.2,146.5 300,145 320,143.5 340,142 360,140.5 380,138.5 400,135.5 415,131 422.4,126.6 427.5,123.5 431.6,119.4 434.7,114.3 436.8,109.1 438.8,104 440.9,98.9 442.9,93.8 445,88.6 447,83.5 449.7,76.8" fill="none" stroke="#2458c0" stroke-width="1.5" stroke-linejoin="round"/>
<polyline points="449.7,76.8 436,90 426.5,103 418.9,119.4 413.2,127.6 408,130.5" fill="none" stroke="#2458c0" stroke-width="1.5" stroke-linejoin="round"/>
<circle cx="282.2" cy="146.5" r="1.8" fill="#2a86e0"/>
<circle cx="281.7" cy="146" r="0.6" fill="#fff" fill-opacity="0.8"/>
<circle cx="286.48" cy="146.14" r="1.8" fill="#2a86e0"/>
<circle cx="285.98" cy="145.64" r="0.6" fill="#fff" fill-opacity="0.8"/>
<circle cx="290.77" cy="145.78" r="1.8" fill="#2a86e0"/>
<circle cx="290.27" cy="145.28" r="0.6" fill="#fff" fill-opacity="0.8"/>
<circle cx="295.05" cy="145.42" r="1.8" fill="#2a86e0"/>
<circle cx="294.55" cy="144.92" r="0.6" fill="#fff" fill-opacity="0.8"/>
<circle cx="299.34" cy="145.06" r="1.8" fill="#2a86e0"/>
<circle cx="298.84" cy="144.56" r="0.6" fill="#fff" fill-opacity="0.8"/>
<circle cx="303.63" cy="144.73" r="1.8" fill="#2a86e0"/>
<circle cx="303.13" cy="144.23" r="0.6" fill="#fff" fill-opacity="0.8"/>
<circle cx="307.91" cy="144.41" r="1.8" fill="#2a86e0"/>
<circle cx="307.41" cy="143.91" r="0.6" fill="#fff" fill-opacity="0.8"/>
<circle cx="312.2" cy="144.08" r="1.8" fill="#2a86e0"/>
<circle cx="311.7" cy="143.58" r="0.6" fill="#fff" fill-opacity="0.8"/>
<circle cx="316.49" cy="143.76" r="1.8" fill="#2a86e0"/>
<circle cx="315.99" cy="143.26" r="0.6" fill="#fff" fill-opacity="0.8"/>
<circle cx="320.78" cy="143.44" r="1.8" fill="#2a86e0"/>
<circle cx="320.28" cy="142.94" r="0.6" fill="#fff" fill-opacity="0.8"/>
<circle cx="325.07" cy="143.12" r="1.8" fill="#2a86e0"/>
<circle cx="324.57" cy="142.62" r="0.6" fill="#fff" fill-opacity="0.8"/>
<circle cx="329.35" cy="142.8" r="1.8" fill="#2a86e0"/>
<circle cx="328.85" cy="142.3" r="0.6" fill="#fff" fill-opacity="0.8"/>
<circle cx="333.64" cy="142.48" r="1.8" fill="#2a86e0"/>
<circle cx="333.14" cy="141.98" r="0.6" fill="#fff" fill-opacity="0.8"/>
<circle cx="337.93" cy="142.16" r="1.8" fill="#2a86e0"/>
<circle cx="337.43" cy="141.66" r="0.6" fill="#fff" fill-opacity="0.8"/>
<circle cx="342.22" cy="141.83" r="1.8" fill="#2a86e0"/>
<circle cx="341.72" cy="141.33" r="0.6" fill="#fff" fill-opacity="0.8"/>
<circle cx="346.51" cy="141.51" r="1.8" fill="#2a86e0"/>
<circle cx="346.01" cy="141.01" r="0.6" fill="#fff" fill-opacity="0.8"/>
<circle cx="350.79" cy="141.19" r="1.8" fill="#2a86e0"/>
<circle cx="350.29" cy="140.69" r="0.6" fill="#fff" fill-opacity="0.8"/>
<circle cx="355.08" cy="140.87" r="1.8" fill="#2a86e0"/>
<circle cx="354.58" cy="140.37" r="0.6" fill="#fff" fill-opacity="0.8"/>
<circle cx="359.37" cy="140.55" r="1.8" fill="#2a86e0"/>
<circle cx="358.87" cy="140.05" r="0.6" fill="#fff" fill-opacity="0.8"/>
<circle cx="363.65" cy="140.13" r="1.8" fill="#2a86e0"/>
<circle cx="363.15" cy="139.63" r="0.6" fill="#fff" fill-opacity="0.8"/>
<circle cx="367.93" cy="139.71" r="1.8" fill="#2a86e0"/>
<circle cx="367.43" cy="139.21" r="0.6" fill="#fff" fill-opacity="0.8"/>
<circle cx="372.21" cy="139.28" r="1.8" fill="#2a86e0"/>
<circle cx="371.71" cy="138.78" r="0.6" fill="#fff" fill-opacity="0.8"/>
<circle cx="376.49" cy="138.85" r="1.8" fill="#2a86e0"/>
<circle cx="375.99" cy="138.35" r="0.6" fill="#fff" fill-opacity="0.8"/>
<circle cx="380.76" cy="138.39" r="1.8" fill="#2a86e0"/>
<circle cx="380.26" cy="137.89" r="0.6" fill="#fff" fill-opacity="0.8"/>
<circle cx="385.01" cy="137.75" r="1.8" fill="#2a86e0"/>
<circle cx="384.51" cy="137.25" r="0.6" fill="#fff" fill-opacity="0.8"/>
<circle cx="389.26" cy="137.11" r="1.8" fill="#2a86e0"/>
<circle cx="388.76" cy="136.61" r="0.6" fill="#fff" fill-opacity="0.8"/>
<circle cx="393.52" cy="136.47" r="1.8" fill="#2a86e0"/>
<circle cx="393.02" cy="135.97" r="0.6" fill="#fff" fill-opacity="0.8"/>
<circle cx="397.77" cy="135.83" r="1.8" fill="#2a86e0"/>
<circle cx="397.27" cy="135.33" r="0.6" fill="#fff" fill-opacity="0.8"/>
<circle cx="401.96" cy="134.91" r="1.8" fill="#2a86e0"/>
<circle cx="401.46" cy="134.41" r="0.6" fill="#fff" fill-opacity="0.8"/>
<circle cx="406.08" cy="133.68" r="1.8" fill="#2a86e0"/>
<circle cx="405.58" cy="133.18" r="0.6" fill="#fff" fill-opacity="0.8"/>
<circle cx="410.2" cy="132.44" r="1.8" fill="#2a86e0"/>
<circle cx="409.7" cy="131.94" r="0.6" fill="#fff" fill-opacity="0.8"/>
<circle cx="414.31" cy="131.21" r="1.8" fill="#2a86e0"/>
<circle cx="413.81" cy="130.71" r="0.6" fill="#fff" fill-opacity="0.8"/>
<circle cx="422.4" cy="126.6" r="1.8" fill="#2a86e0"/>
<circle cx="421.9" cy="126.1" r="0.6" fill="#fff" fill-opacity="0.8"/>
<circle cx="427.5" cy="123.5" r="1.8" fill="#2a86e0"/>
<circle cx="427" cy="123" r="0.6" fill="#fff" fill-opacity="0.8"/>
<circle cx="431.6" cy="119.4" r="1.8" fill="#2a86e0"/>
<circle cx="431.1" cy="118.9" r="0.6" fill="#fff" fill-opacity="0.8"/>
<circle cx="434.7" cy="114.3" r="1.8" fill="#2a86e0"/>
<circle cx="434.2" cy="113.8" r="0.6" fill="#fff" fill-opacity="0.8"/>
<circle cx="436.8" cy="109.1" r="1.8" fill="#2a86e0"/>
<circle cx="436.3" cy="108.6" r="0.6" fill="#fff" fill-opacity="0.8"/>
<circle cx="438.8" cy="104" r="1.8" fill="#2a86e0"/>
<circle cx="438.3" cy="103.5" r="0.6" fill="#fff" fill-opacity="0.8"/>
<circle cx="440.9" cy="98.9" r="1.8" fill="#2a86e0"/>
<circle cx="440.4" cy="98.4" r="0.6" fill="#fff" fill-opacity="0.8"/>
<circle cx="442.9" cy="93.8" r="1.8" fill="#2a86e0"/>
<circle cx="442.4" cy="93.3" r="0.6" fill="#fff" fill-opacity="0.8"/>
<circle cx="445" cy="88.6" r="1.8" fill="#2a86e0"/>
<circle cx="444.5" cy="88.1" r="0.6" fill="#fff" fill-opacity="0.8"/>
<circle cx="447" cy="83.5" r="1.8" fill="#2a86e0"/>
<circle cx="446.5" cy="83" r="0.6" fill="#fff" fill-opacity="0.8"/>
<circle cx="449.7" cy="76.8" r="1.8" fill="#2a86e0"/>
<circle cx="449.2" cy="76.3" r="0.6" fill="#fff" fill-opacity="0.8"/>
<circle cx="436" cy="90" r="1.8" fill="#2a86e0"/>
<circle cx="435.5" cy="89.5" r="0.6" fill="#fff" fill-opacity="0.8"/>
<circle cx="426.5" cy="103" r="1.8" fill="#2a86e0"/>
<circle cx="426" cy="102.5" r="0.6" fill="#fff" fill-opacity="0.8"/>
<circle cx="418.9" cy="119.4" r="1.8" fill="#2a86e0"/>
<circle cx="418.4" cy="118.9" r="0.6" fill="#fff" fill-opacity="0.8"/>
<circle cx="413.2" cy="127.6" r="1.8" fill="#2a86e0"/>
<circle cx="412.7" cy="127.1" r="0.6" fill="#fff" fill-opacity="0.8"/>
<circle cx="408" cy="130.5" r="1.8" fill="#2a86e0"/>
<circle cx="407.5" cy="130" r="0.6" fill="#fff" fill-opacity="0.8"/>
<polyline points="282.2,145.3 300,143.8 320,142.3 340,140.6 360,139 372,137.7 385,136.3 395,135 405,133.6 413.2,132.1 419.3,130.7 425.5,128.7 430.6,126.6 435.7,124.6 439.8,121.5 442.9,117.4 445,112.3 446,107.1 447,101 447.6,93.8 448,86.6 448.6,79.5" fill="none" stroke="#287868" stroke-width="1.5" stroke-linejoin="round"/>
<polyline points="448.6,79.5 443.9,93.8 440.9,103 437.8,111.2 433.7,117.4 428.6,121.5 423.4,124.6 417.3,127.6 410,130.5" fill="none" stroke="#287868" stroke-width="1.5" stroke-linejoin="round"/>
<circle cx="282.2" cy="145.3" r="1.8" fill="#1c9a88"/>
<circle cx="281.7" cy="144.8" r="0.6" fill="#fff" fill-opacity="0.8"/>
<circle cx="286.48" cy="144.94" r="1.8" fill="#1c9a88"/>
<circle cx="285.98" cy="144.44" r="0.6" fill="#fff" fill-opacity="0.8"/>
<circle cx="290.77" cy="144.58" r="1.8" fill="#1c9a88"/>
<circle cx="290.27" cy="144.08" r="0.6" fill="#fff" fill-opacity="0.8"/>
<circle cx="295.05" cy="144.22" r="1.8" fill="#1c9a88"/>
<circle cx="294.55" cy="143.72" r="0.6" fill="#fff" fill-opacity="0.8"/>
<circle cx="299.34" cy="143.86" r="1.8" fill="#1c9a88"/>
<circle cx="298.84" cy="143.36" r="0.6" fill="#fff" fill-opacity="0.8"/>
<circle cx="303.63" cy="143.53" r="1.8" fill="#1c9a88"/>
<circle cx="303.13" cy="143.03" r="0.6" fill="#fff" fill-opacity="0.8"/>
<circle cx="307.91" cy="143.21" r="1.8" fill="#1c9a88"/>
<circle cx="307.41" cy="142.71" r="0.6" fill="#fff" fill-opacity="0.8"/>
<circle cx="312.2" cy="142.88" r="1.8" fill="#1c9a88"/>
<circle cx="311.7" cy="142.38" r="0.6" fill="#fff" fill-opacity="0.8"/>
<circle cx="316.49" cy="142.56" r="1.8" fill="#1c9a88"/>
<circle cx="315.99" cy="142.06" r="0.6" fill="#fff" fill-opacity="0.8"/>
<circle cx="320.78" cy="142.23" r="1.8" fill="#1c9a88"/>
<circle cx="320.28" cy="141.73" r="0.6" fill="#fff" fill-opacity="0.8"/>
<circle cx="325.06" cy="141.87" r="1.8" fill="#1c9a88"/>
<circle cx="324.56" cy="141.37" r="0.6" fill="#fff" fill-opacity="0.8"/>
<circle cx="329.35" cy="141.51" r="1.8" fill="#1c9a88"/>
<circle cx="328.85" cy="141.01" r="0.6" fill="#fff" fill-opacity="0.8"/>
<circle cx="333.63" cy="141.14" r="1.8" fill="#1c9a88"/>
<circle cx="333.13" cy="140.64" r="0.6" fill="#fff" fill-opacity="0.8"/>
<circle cx="337.92" cy="140.78" r="1.8" fill="#1c9a88"/>
<circle cx="337.42" cy="140.28" r="0.6" fill="#fff" fill-opacity="0.8"/>
<circle cx="342.2" cy="140.42" r="1.8" fill="#1c9a88"/>
<circle cx="341.7" cy="139.92" r="0.6" fill="#fff" fill-opacity="0.8"/>
<circle cx="346.49" cy="140.08" r="1.8" fill="#1c9a88"/>
<circle cx="345.99" cy="139.58" r="0.6" fill="#fff" fill-opacity="0.8"/>
<circle cx="350.77" cy="139.74" r="1.8" fill="#1c9a88"/>
<circle cx="350.27" cy="139.24" r="0.6" fill="#fff" fill-opacity="0.8"/>
<circle cx="355.06" cy="139.4" r="1.8" fill="#1c9a88"/>
<circle cx="354.56" cy="138.9" r="0.6" fill="#fff" fill-opacity="0.8"/>
<circle cx="359.35" cy="139.05" r="1.8" fill="#1c9a88"/>
<circle cx="358.85" cy="138.55" r="0.6" fill="#fff" fill-opacity="0.8"/>
<circle cx="363.62" cy="138.61" r="1.8" fill="#1c9a88"/>
<circle cx="363.12" cy="138.11" r="0.6" fill="#fff" fill-opacity="0.8"/>
<circle cx="367.9" cy="138.14" r="1.8" fill="#1c9a88"/>
<circle cx="367.4" cy="137.64" r="0.6" fill="#fff" fill-opacity="0.8"/>
<circle cx="372.17" cy="137.68" r="1.8" fill="#1c9a88"/>
<circle cx="371.67" cy="137.18" r="0.6" fill="#fff" fill-opacity="0.8"/>
<circle cx="376.45" cy="137.22" r="1.8" fill="#1c9a88"/>
<circle cx="375.95" cy="136.72" r="0.6" fill="#fff" fill-opacity="0.8"/>
<circle cx="380.72" cy="136.76" r="1.8" fill="#1c9a88"/>
<circle cx="380.22" cy="136.26" r="0.6" fill="#fff" fill-opacity="0.8"/>
<circle cx="385" cy="136.3" r="1.8" fill="#1c9a88"/>
<circle cx="384.5" cy="135.8" r="0.6" fill="#fff" fill-opacity="0.8"/>
<circle cx="395" cy="135" r="1.8" fill="#1c9a88"/>
<circle cx="394.5" cy="134.5" r="0.6" fill="#fff" fill-opacity="0.8"/>
<circle cx="405" cy="133.6" r="1.8" fill="#1c9a88"/>
<circle cx="404.5" cy="133.1" r="0.6" fill="#fff" fill-opacity="0.8"/>
<circle cx="413.2" cy="132.1" r="1.8" fill="#1c9a88"/>
<circle cx="412.7" cy="131.6" r="0.6" fill="#fff" fill-opacity="0.8"/>
<circle cx="419.3" cy="130.7" r="1.8" fill="#1c9a88"/>
<circle cx="418.8" cy="130.2" r="0.6" fill="#fff" fill-opacity="0.8"/>
<circle cx="425.5" cy="128.7" r="1.8" fill="#1c9a88"/>
<circle cx="425" cy="128.2" r="0.6" fill="#fff" fill-opacity="0.8"/>
<circle cx="430.6" cy="126.6" r="1.8" fill="#1c9a88"/>
<circle cx="430.1" cy="126.1" r="0.6" fill="#fff" fill-opacity="0.8"/>
<circle cx="435.7" cy="124.6" r="1.8" fill="#1c9a88"/>
<circle cx="435.2" cy="124.1" r="0.6" fill="#fff" fill-opacity="0.8"/>
<circle cx="439.8" cy="121.5" r="1.8" fill="#1c9a88"/>
<circle cx="439.3" cy="121" r="0.6" fill="#fff" fill-opacity="0.8"/>
<circle cx="442.9" cy="117.4" r="1.8" fill="#1c9a88"/>
<circle cx="442.4" cy="116.9" r="0.6" fill="#fff" fill-opacity="0.8"/>
<circle cx="445" cy="112.3" r="1.8" fill="#1c9a88"/>
<circle cx="444.5" cy="111.8" r="0.6" fill="#fff" fill-opacity="0.8"/>
<circle cx="446" cy="107.1" r="1.8" fill="#1c9a88"/>
<circle cx="445.5" cy="106.6" r="0.6" fill="#fff" fill-opacity="0.8"/>
<circle cx="447" cy="101" r="1.8" fill="#1c9a88"/>
<circle cx="446.5" cy="100.5" r="0.6" fill="#fff" fill-opacity="0.8"/>
<circle cx="447.6" cy="93.8" r="1.8" fill="#1c9a88"/>
<circle cx="447.1" cy="93.3" r="0.6" fill="#fff" fill-opacity="0.8"/>
<circle cx="448" cy="86.6" r="1.8" fill="#1c9a88"/>
<circle cx="447.5" cy="86.1" r="0.6" fill="#fff" fill-opacity="0.8"/>
<circle cx="448.6" cy="79.5" r="1.8" fill="#1c9a88"/>
<circle cx="448.1" cy="79" r="0.6" fill="#fff" fill-opacity="0.8"/>
<circle cx="443.9" cy="93.8" r="1.8" fill="#1c9a88"/>
<circle cx="443.4" cy="93.3" r="0.6" fill="#fff" fill-opacity="0.8"/>
<circle cx="440.9" cy="103" r="1.8" fill="#1c9a88"/>
<circle cx="440.4" cy="102.5" r="0.6" fill="#fff" fill-opacity="0.8"/>
<circle cx="437.8" cy="111.2" r="1.8" fill="#1c9a88"/>
<circle cx="437.3" cy="110.7" r="0.6" fill="#fff" fill-opacity="0.8"/>
<circle cx="433.7" cy="117.4" r="1.8" fill="#1c9a88"/>
<circle cx="433.2" cy="116.9" r="0.6" fill="#fff" fill-opacity="0.8"/>
<circle cx="428.6" cy="121.5" r="1.8" fill="#1c9a88"/>
<circle cx="428.1" cy="121" r="0.6" fill="#fff" fill-opacity="0.8"/>
<circle cx="423.4" cy="124.6" r="1.8" fill="#1c9a88"/>
<circle cx="422.9" cy="124.1" r="0.6" fill="#fff" fill-opacity="0.8"/>
<circle cx="417.3" cy="127.6" r="1.8" fill="#1c9a88"/>
<circle cx="416.8" cy="127.1" r="0.6" fill="#fff" fill-opacity="0.8"/>
<circle cx="410" cy="130.5" r="1.8" fill="#1c9a88"/>
<circle cx="409.5" cy="130" r="0.6" fill="#fff" fill-opacity="0.8"/>
<line x1="280.9" y1="31.4" x2="304" y2="31.4" stroke="#2458c0" stroke-width="1.4"/>
<circle cx="292.45" cy="31.4" r="1.8" fill="#2a86e0"/>
<circle cx="291.95" cy="30.9" r="0.5" fill="#fff" fill-opacity="0.8"/>
<text x="306" y="34.8" font-size="9.8" text-anchor="start" font-weight="bold" fill="#141414" letter-spacing="-0.2">F127-550</text>
<line x1="280.9" y1="43.9" x2="304" y2="43.9" stroke="#c02a5c" stroke-width="1.4"/>
<circle cx="292.45" cy="43.9" r="1.8" fill="#e0205e"/>
<circle cx="291.95" cy="43.4" r="0.5" fill="#fff" fill-opacity="0.8"/>
<text x="306" y="47.3" font-size="9.8" text-anchor="start" font-weight="bold" fill="#141414" letter-spacing="-0.2">F108-550</text>
<line x1="280.9" y1="55.9" x2="304" y2="55.9" stroke="#287868" stroke-width="1.4"/>
<circle cx="292.45" cy="55.9" r="1.8" fill="#1c9a88"/>
<circle cx="291.95" cy="55.4" r="0.5" fill="#fff" fill-opacity="0.8"/>
<text x="306" y="59.3" font-size="9.8" text-anchor="start" font-weight="bold" fill="#141414" letter-spacing="-0.2">P123-550</text>
<rect x="495.3" y="14.8" width="179.3" height="147.2" fill="none" stroke="#111" stroke-width="1.3"/>
<line x1="492.3" y1="154.1" x2="495.3" y2="154.1" stroke="#111" stroke-width="1.3"/>
<text x="0" y="0" font-size="10" text-anchor="end" font-weight="bold" fill="#141414" transform="translate(490.1 156.9) scale(0.92 1)">0</text>
<line x1="492.3" y1="137.72" x2="495.3" y2="137.72" stroke="#111" stroke-width="1.3"/>
<text x="0" y="0" font-size="10" text-anchor="end" font-weight="bold" fill="#141414" transform="translate(490.1 140.53) scale(0.92 1)">10</text>
<line x1="492.3" y1="121.35" x2="495.3" y2="121.35" stroke="#111" stroke-width="1.3"/>
<text x="0" y="0" font-size="10" text-anchor="end" font-weight="bold" fill="#141414" transform="translate(490.1 124.15) scale(0.92 1)">20</text>
<line x1="492.3" y1="104.97" x2="495.3" y2="104.97" stroke="#111" stroke-width="1.3"/>
<text x="0" y="0" font-size="10" text-anchor="end" font-weight="bold" fill="#141414" transform="translate(490.1 107.77) scale(0.92 1)">30</text>
<line x1="492.3" y1="88.6" x2="495.3" y2="88.6" stroke="#111" stroke-width="1.3"/>
<text x="0" y="0" font-size="10" text-anchor="end" font-weight="bold" fill="#141414" transform="translate(490.1 91.4) scale(0.92 1)">40</text>
<line x1="492.3" y1="72.22" x2="495.3" y2="72.22" stroke="#111" stroke-width="1.3"/>
<text x="0" y="0" font-size="10" text-anchor="end" font-weight="bold" fill="#141414" transform="translate(490.1 75.02) scale(0.92 1)">50</text>
<line x1="492.3" y1="55.85" x2="495.3" y2="55.85" stroke="#111" stroke-width="1.3"/>
<text x="0" y="0" font-size="10" text-anchor="end" font-weight="bold" fill="#141414" transform="translate(490.1 58.65) scale(0.92 1)">60</text>
<line x1="492.3" y1="39.47" x2="495.3" y2="39.47" stroke="#111" stroke-width="1.3"/>
<text x="0" y="0" font-size="10" text-anchor="end" font-weight="bold" fill="#141414" transform="translate(490.1 42.27) scale(0.92 1)">70</text>
<line x1="492.3" y1="23.1" x2="495.3" y2="23.1" stroke="#111" stroke-width="1.3"/>
<text x="0" y="0" font-size="10" text-anchor="end" font-weight="bold" fill="#141414" transform="translate(490.1 25.9) scale(0.92 1)">80</text>
<line x1="498.7" y1="162" x2="498.7" y2="165" stroke="#111" stroke-width="1.3"/>
<text x="0" y="0" font-size="10" text-anchor="middle" font-weight="bold" fill="#141414" transform="translate(498.7 174.7) scale(0.93 1)">0.0</text>
<line x1="533.1" y1="162" x2="533.1" y2="165" stroke="#111" stroke-width="1.3"/>
<text x="0" y="0" font-size="10" text-anchor="middle" font-weight="bold" fill="#141414" transform="translate(533.1 174.7) scale(0.93 1)">0.2</text>
<line x1="567.5" y1="162" x2="567.5" y2="165" stroke="#111" stroke-width="1.3"/>
<text x="0" y="0" font-size="10" text-anchor="middle" font-weight="bold" fill="#141414" transform="translate(567.5 174.7) scale(0.93 1)">0.4</text>
<line x1="601.9" y1="162" x2="601.9" y2="165" stroke="#111" stroke-width="1.3"/>
<text x="0" y="0" font-size="10" text-anchor="middle" font-weight="bold" fill="#141414" transform="translate(601.9 174.7) scale(0.93 1)">0.6</text>
<line x1="636.3" y1="162" x2="636.3" y2="165" stroke="#111" stroke-width="1.3"/>
<text x="0" y="0" font-size="10" text-anchor="middle" font-weight="bold" fill="#141414" transform="translate(636.3 174.7) scale(0.93 1)">0.8</text>
<line x1="670.7" y1="162" x2="670.7" y2="165" stroke="#111" stroke-width="1.3"/>
<text x="0" y="0" font-size="10" text-anchor="middle" font-weight="bold" fill="#141414" transform="translate(670.7 174.7) scale(0.93 1)">1.0</text>
<text x="580.5" y="186.8" font-size="12" text-anchor="start" font-weight="bold" fill="#141414">P/P<tspan font-size="10" dy="2.3">0</tspan></text>
<text x="0" y="0" font-size="12.5" text-anchor="middle" font-weight="bold" fill="#141414" transform="translate(471.9 88) rotate(-90)">V (cm<tspan font-size="9.5" dy="-4.3">3</tspan><tspan dy="4.3">.g</tspan><tspan font-size="9.5" dy="-4.3">-1</tspan><tspan dy="4.3">)</tspan></text>
<text x="616.3" y="33.5" font-size="13" text-anchor="start" font-weight="bold" fill="#141414">(c)</text>
<polyline points="500.1,142 509.6,138.6 524.2,136.6 538.8,134.7 553.4,133.2 568,131.4 582.6,128.9 590,127.5 595,126.7 602.8,124.9 610.4,123 618.8,119.2 625.8,114.7 631.5,109.6 636.6,101.9 639.6,95 643,86.1 645.8,74.1 648.4,61.4 651.4,49.9 656.8,37.6 661.4,34.6 666,34.6 671.4,32" fill="none" stroke="#e41e1e" stroke-width="1.3" stroke-linejoin="round"/>
<polyline points="671.4,32 665,33.5 658,34.2 651.4,34.6 645.3,37.6 639.2,48.4 636.1,60 632,74.1 628.2,88 624.6,101.1 622.6,105.1 616.2,114.7 606.6,122.4 599.6,124.9" fill="none" stroke="#e41e1e" stroke-width="1.3" stroke-linejoin="round"/>
<circle cx="500.1" cy="142" r="1.8" fill="#d81010"/>
<circle cx="499.6" cy="141.5" r="0.6" fill="#ffb0b0" fill-opacity="0.8"/>
<circle cx="504.81" cy="140.32" r="1.8" fill="#d81010"/>
<circle cx="504.31" cy="139.82" r="0.6" fill="#ffb0b0" fill-opacity="0.8"/>
<circle cx="509.52" cy="138.63" r="1.8" fill="#d81010"/>
<circle cx="509.02" cy="138.13" r="0.6" fill="#ffb0b0" fill-opacity="0.8"/>
<circle cx="514.46" cy="137.93" r="1.8" fill="#d81010"/>
<circle cx="513.96" cy="137.43" r="0.6" fill="#ffb0b0" fill-opacity="0.8"/>
<circle cx="519.42" cy="137.26" r="1.8" fill="#d81010"/>
<circle cx="518.92" cy="136.76" r="0.6" fill="#ffb0b0" fill-opacity="0.8"/>
<circle cx="524.37" cy="136.58" r="1.8" fill="#d81010"/>
<circle cx="523.87" cy="136.08" r="0.6" fill="#ffb0b0" fill-opacity="0.8"/>
<circle cx="529.33" cy="135.93" r="1.8" fill="#d81010"/>
<circle cx="528.83" cy="135.43" r="0.6" fill="#ffb0b0" fill-opacity="0.8"/>
<circle cx="534.29" cy="135.29" r="1.8" fill="#d81010"/>
<circle cx="533.79" cy="134.79" r="0.6" fill="#ffb0b0" fill-opacity="0.8"/>
<circle cx="539.25" cy="134.65" r="1.8" fill="#d81010"/>
<circle cx="538.75" cy="134.15" r="0.6" fill="#ffb0b0" fill-opacity="0.8"/>
<circle cx="544.22" cy="134.14" r="1.8" fill="#d81010"/>
<circle cx="543.72" cy="133.64" r="0.6" fill="#ffb0b0" fill-opacity="0.8"/>
<circle cx="549.2" cy="133.63" r="1.8" fill="#d81010"/>
<circle cx="548.7" cy="133.13" r="0.6" fill="#ffb0b0" fill-opacity="0.8"/>
<circle cx="554.17" cy="133.11" r="1.8" fill="#d81010"/>
<circle cx="553.67" cy="132.61" r="0.6" fill="#ffb0b0" fill-opacity="0.8"/>
<circle cx="559.13" cy="132.49" r="1.8" fill="#d81010"/>
<circle cx="558.63" cy="131.99" r="0.6" fill="#ffb0b0" fill-opacity="0.8"/>
<circle cx="564.09" cy="131.88" r="1.8" fill="#d81010"/>
<circle cx="563.59" cy="131.38" r="0.6" fill="#ffb0b0" fill-opacity="0.8"/>
<circle cx="569.05" cy="131.22" r="1.8" fill="#d81010"/>
<circle cx="568.55" cy="130.72" r="0.6" fill="#ffb0b0" fill-opacity="0.8"/>
<circle cx="573.98" cy="130.38" r="1.8" fill="#d81010"/>
<circle cx="573.48" cy="129.88" r="0.6" fill="#ffb0b0" fill-opacity="0.8"/>
<circle cx="578.9" cy="129.53" r="1.8" fill="#d81010"/>
<circle cx="578.4" cy="129.03" r="0.6" fill="#ffb0b0" fill-opacity="0.8"/>
<circle cx="583.83" cy="128.67" r="1.8" fill="#d81010"/>
<circle cx="583.33" cy="128.17" r="0.6" fill="#ffb0b0" fill-opacity="0.8"/>
<circle cx="588.74" cy="127.74" r="1.8" fill="#d81010"/>
<circle cx="588.24" cy="127.24" r="0.6" fill="#ffb0b0" fill-opacity="0.8"/>
<circle cx="595" cy="126.7" r="1.8" fill="#d81010"/>
<circle cx="594.5" cy="126.2" r="0.6" fill="#ffb0b0" fill-opacity="0.8"/>
<circle cx="602.8" cy="124.9" r="1.8" fill="#d81010"/>
<circle cx="602.3" cy="124.4" r="0.6" fill="#ffb0b0" fill-opacity="0.8"/>
<circle cx="610.4" cy="123" r="1.8" fill="#d81010"/>
<circle cx="609.9" cy="122.5" r="0.6" fill="#ffb0b0" fill-opacity="0.8"/>
<circle cx="618.8" cy="119.2" r="1.8" fill="#d81010"/>
<circle cx="618.3" cy="118.7" r="0.6" fill="#ffb0b0" fill-opacity="0.8"/>
<circle cx="625.8" cy="114.7" r="1.8" fill="#d81010"/>
<circle cx="625.3" cy="114.2" r="0.6" fill="#ffb0b0" fill-opacity="0.8"/>
<circle cx="631.5" cy="109.6" r="1.8" fill="#d81010"/>
<circle cx="631" cy="109.1" r="0.6" fill="#ffb0b0" fill-opacity="0.8"/>
<circle cx="636.6" cy="101.9" r="1.8" fill="#d81010"/>
<circle cx="636.1" cy="101.4" r="0.6" fill="#ffb0b0" fill-opacity="0.8"/>
<circle cx="639.6" cy="95" r="1.8" fill="#d81010"/>
<circle cx="639.1" cy="94.5" r="0.6" fill="#ffb0b0" fill-opacity="0.8"/>
<circle cx="643" cy="86.1" r="1.8" fill="#d81010"/>
<circle cx="642.5" cy="85.6" r="0.6" fill="#ffb0b0" fill-opacity="0.8"/>
<circle cx="645.8" cy="74.1" r="1.8" fill="#d81010"/>
<circle cx="645.3" cy="73.6" r="0.6" fill="#ffb0b0" fill-opacity="0.8"/>
<circle cx="648.4" cy="61.4" r="1.8" fill="#d81010"/>
<circle cx="647.9" cy="60.9" r="0.6" fill="#ffb0b0" fill-opacity="0.8"/>
<circle cx="651.4" cy="49.9" r="1.8" fill="#d81010"/>
<circle cx="650.9" cy="49.4" r="0.6" fill="#ffb0b0" fill-opacity="0.8"/>
<circle cx="656.8" cy="37.6" r="1.8" fill="#d81010"/>
<circle cx="656.3" cy="37.1" r="0.6" fill="#ffb0b0" fill-opacity="0.8"/>
<circle cx="661.4" cy="34.6" r="1.8" fill="#d81010"/>
<circle cx="660.9" cy="34.1" r="0.6" fill="#ffb0b0" fill-opacity="0.8"/>
<circle cx="666" cy="34.6" r="1.8" fill="#d81010"/>
<circle cx="665.5" cy="34.1" r="0.6" fill="#ffb0b0" fill-opacity="0.8"/>
<circle cx="671.4" cy="32" r="1.8" fill="#d81010"/>
<circle cx="670.9" cy="31.5" r="0.6" fill="#ffb0b0" fill-opacity="0.8"/>
<circle cx="665" cy="33.5" r="1.8" fill="#d81010"/>
<circle cx="664.5" cy="33" r="0.6" fill="#ffb0b0" fill-opacity="0.8"/>
<circle cx="658" cy="34.2" r="1.8" fill="#d81010"/>
<circle cx="657.5" cy="33.7" r="0.6" fill="#ffb0b0" fill-opacity="0.8"/>
<circle cx="651.4" cy="34.6" r="1.8" fill="#d81010"/>
<circle cx="650.9" cy="34.1" r="0.6" fill="#ffb0b0" fill-opacity="0.8"/>
<circle cx="645.3" cy="37.6" r="1.8" fill="#d81010"/>
<circle cx="644.8" cy="37.1" r="0.6" fill="#ffb0b0" fill-opacity="0.8"/>
<circle cx="639.2" cy="48.4" r="1.8" fill="#d81010"/>
<circle cx="638.7" cy="47.9" r="0.6" fill="#ffb0b0" fill-opacity="0.8"/>
<circle cx="636.1" cy="60" r="1.8" fill="#d81010"/>
<circle cx="635.6" cy="59.5" r="0.6" fill="#ffb0b0" fill-opacity="0.8"/>
<circle cx="632" cy="74.1" r="1.8" fill="#d81010"/>
<circle cx="631.5" cy="73.6" r="0.6" fill="#ffb0b0" fill-opacity="0.8"/>
<circle cx="628.2" cy="88" r="1.8" fill="#d81010"/>
<circle cx="627.7" cy="87.5" r="0.6" fill="#ffb0b0" fill-opacity="0.8"/>
<circle cx="624.6" cy="101.1" r="1.8" fill="#d81010"/>
<circle cx="624.1" cy="100.6" r="0.6" fill="#ffb0b0" fill-opacity="0.8"/>
<circle cx="622.6" cy="105.1" r="1.8" fill="#d81010"/>
<circle cx="622.1" cy="104.6" r="0.6" fill="#ffb0b0" fill-opacity="0.8"/>
<circle cx="616.2" cy="114.7" r="1.8" fill="#d81010"/>
<circle cx="615.7" cy="114.2" r="0.6" fill="#ffb0b0" fill-opacity="0.8"/>
<circle cx="606.6" cy="122.4" r="1.8" fill="#d81010"/>
<circle cx="606.1" cy="121.9" r="0.6" fill="#ffb0b0" fill-opacity="0.8"/>
<circle cx="599.6" cy="124.9" r="1.8" fill="#d81010"/>
<circle cx="599.1" cy="124.4" r="0.6" fill="#ffb0b0" fill-opacity="0.8"/>
<polyline points="500.1,150 509.6,147.8 524.2,145.7 538.8,144.2 553.4,143.2 568,142 582.6,140.5 590,140.4 600.2,140.1 609.2,139 619.4,137.1 628.3,135.1 637.3,131.3 645,125.6 650.1,119.2 654.5,108.3 657.6,99.1 660.2,83 662.2,70.7 664.5,63.5 667,61.2 669.1,59.1 669.8,56.8 670.9,52.5" fill="none" stroke="#3aa852" stroke-width="1.3" stroke-linejoin="round"/>
<polyline points="670.9,52.5 660.6,59.6 653,70.4 646.8,93 639.6,116 629.6,129.4 620.7,134.5 610.4,137.7 601.5,139.6 590,140.9" fill="none" stroke="#3aa852" stroke-width="1.3" stroke-linejoin="round"/>
<circle cx="500.1" cy="150" r="1.8" fill="#28a040"/>
<circle cx="499.6" cy="149.5" r="0.6" fill="#b8f0c0" fill-opacity="0.8"/>
<circle cx="504.97" cy="148.87" r="1.8" fill="#28a040"/>
<circle cx="504.47" cy="148.37" r="0.6" fill="#b8f0c0" fill-opacity="0.8"/>
<circle cx="509.85" cy="147.76" r="1.8" fill="#28a040"/>
<circle cx="509.35" cy="147.26" r="0.6" fill="#b8f0c0" fill-opacity="0.8"/>
<circle cx="514.8" cy="147.05" r="1.8" fill="#28a040"/>
<circle cx="514.3" cy="146.55" r="0.6" fill="#b8f0c0" fill-opacity="0.8"/>
<circle cx="519.74" cy="146.34" r="1.8" fill="#28a040"/>
<circle cx="519.24" cy="145.84" r="0.6" fill="#b8f0c0" fill-opacity="0.8"/>
<circle cx="524.7" cy="145.65" r="1.8" fill="#28a040"/>
<circle cx="524.2" cy="145.15" r="0.6" fill="#b8f0c0" fill-opacity="0.8"/>
<circle cx="529.67" cy="145.14" r="1.8" fill="#28a040"/>
<circle cx="529.17" cy="144.64" r="0.6" fill="#b8f0c0" fill-opacity="0.8"/>
<circle cx="534.64" cy="144.63" r="1.8" fill="#28a040"/>
<circle cx="534.14" cy="144.13" r="0.6" fill="#b8f0c0" fill-opacity="0.8"/>
<circle cx="539.62" cy="144.14" r="1.8" fill="#28a040"/>
<circle cx="539.12" cy="143.64" r="0.6" fill="#b8f0c0" fill-opacity="0.8"/>
<circle cx="544.61" cy="143.8" r="1.8" fill="#28a040"/>
<circle cx="544.11" cy="143.3" r="0.6" fill="#b8f0c0" fill-opacity="0.8"/>
<circle cx="549.6" cy="143.46" r="1.8" fill="#28a040"/>
<circle cx="549.1" cy="142.96" r="0.6" fill="#b8f0c0" fill-opacity="0.8"/>
<circle cx="554.58" cy="143.1" r="1.8" fill="#28a040"/>
<circle cx="554.08" cy="142.6" r="0.6" fill="#b8f0c0" fill-opacity="0.8"/>
<circle cx="559.57" cy="142.69" r="1.8" fill="#28a040"/>
<circle cx="559.07" cy="142.19" r="0.6" fill="#b8f0c0" fill-opacity="0.8"/>
<circle cx="564.55" cy="142.28" r="1.8" fill="#28a040"/>
<circle cx="564.05" cy="141.78" r="0.6" fill="#b8f0c0" fill-opacity="0.8"/>
<circle cx="569.53" cy="141.84" r="1.8" fill="#28a040"/>
<circle cx="569.03" cy="141.34" r="0.6" fill="#b8f0c0" fill-opacity="0.8"/>
<circle cx="574.5" cy="141.33" r="1.8" fill="#28a040"/>
<circle cx="574" cy="140.83" r="0.6" fill="#b8f0c0" fill-opacity="0.8"/>
<circle cx="579.48" cy="140.82" r="1.8" fill="#28a040"/>
<circle cx="578.98" cy="140.32" r="0.6" fill="#b8f0c0" fill-opacity="0.8"/>
<circle cx="584.46" cy="140.47" r="1.8" fill="#28a040"/>
<circle cx="583.96" cy="139.97" r="0.6" fill="#b8f0c0" fill-opacity="0.8"/>
<circle cx="589.46" cy="140.41" r="1.8" fill="#28a040"/>
<circle cx="588.96" cy="139.91" r="0.6" fill="#b8f0c0" fill-opacity="0.8"/>
<circle cx="600.2" cy="140.1" r="1.8" fill="#28a040"/>
<circle cx="599.7" cy="139.6" r="0.6" fill="#b8f0c0" fill-opacity="0.8"/>
<circle cx="609.2" cy="139" r="1.8" fill="#28a040"/>
<circle cx="608.7" cy="138.5" r="0.6" fill="#b8f0c0" fill-opacity="0.8"/>
<circle cx="619.4" cy="137.1" r="1.8" fill="#28a040"/>
<circle cx="618.9" cy="136.6" r="0.6" fill="#b8f0c0" fill-opacity="0.8"/>
<circle cx="628.3" cy="135.1" r="1.8" fill="#28a040"/>
<circle cx="627.8" cy="134.6" r="0.6" fill="#b8f0c0" fill-opacity="0.8"/>
<circle cx="637.3" cy="131.3" r="1.8" fill="#28a040"/>
<circle cx="636.8" cy="130.8" r="0.6" fill="#b8f0c0" fill-opacity="0.8"/>
<circle cx="645" cy="125.6" r="1.8" fill="#28a040"/>
<circle cx="644.5" cy="125.1" r="0.6" fill="#b8f0c0" fill-opacity="0.8"/>
<circle cx="650.1" cy="119.2" r="1.8" fill="#28a040"/>
<circle cx="649.6" cy="118.7" r="0.6" fill="#b8f0c0" fill-opacity="0.8"/>
<circle cx="654.5" cy="108.3" r="1.8" fill="#28a040"/>
<circle cx="654" cy="107.8" r="0.6" fill="#b8f0c0" fill-opacity="0.8"/>
<circle cx="657.6" cy="99.1" r="1.8" fill="#28a040"/>
<circle cx="657.1" cy="98.6" r="0.6" fill="#b8f0c0" fill-opacity="0.8"/>
<circle cx="660.2" cy="83" r="1.8" fill="#28a040"/>
<circle cx="659.7" cy="82.5" r="0.6" fill="#b8f0c0" fill-opacity="0.8"/>
<circle cx="662.2" cy="70.7" r="1.8" fill="#28a040"/>
<circle cx="661.7" cy="70.2" r="0.6" fill="#b8f0c0" fill-opacity="0.8"/>
<circle cx="664.5" cy="63.5" r="1.8" fill="#28a040"/>
<circle cx="664" cy="63" r="0.6" fill="#b8f0c0" fill-opacity="0.8"/>
<circle cx="667" cy="61.2" r="1.8" fill="#28a040"/>
<circle cx="666.5" cy="60.7" r="0.6" fill="#b8f0c0" fill-opacity="0.8"/>
<circle cx="669.1" cy="59.1" r="1.8" fill="#28a040"/>
<circle cx="668.6" cy="58.6" r="0.6" fill="#b8f0c0" fill-opacity="0.8"/>
<circle cx="669.8" cy="56.8" r="1.8" fill="#28a040"/>
<circle cx="669.3" cy="56.3" r="0.6" fill="#b8f0c0" fill-opacity="0.8"/>
<circle cx="670.9" cy="52.5" r="1.8" fill="#28a040"/>
<circle cx="670.4" cy="52" r="0.6" fill="#b8f0c0" fill-opacity="0.8"/>
<circle cx="660.6" cy="59.6" r="1.8" fill="#28a040"/>
<circle cx="660.1" cy="59.1" r="0.6" fill="#b8f0c0" fill-opacity="0.8"/>
<circle cx="653" cy="70.4" r="1.8" fill="#28a040"/>
<circle cx="652.5" cy="69.9" r="0.6" fill="#b8f0c0" fill-opacity="0.8"/>
<circle cx="646.8" cy="93" r="1.8" fill="#28a040"/>
<circle cx="646.3" cy="92.5" r="0.6" fill="#b8f0c0" fill-opacity="0.8"/>
<circle cx="639.6" cy="116" r="1.8" fill="#28a040"/>
<circle cx="639.1" cy="115.5" r="0.6" fill="#b8f0c0" fill-opacity="0.8"/>
<circle cx="629.6" cy="129.4" r="1.8" fill="#28a040"/>
<circle cx="629.1" cy="128.9" r="0.6" fill="#b8f0c0" fill-opacity="0.8"/>
<circle cx="620.7" cy="134.5" r="1.8" fill="#28a040"/>
<circle cx="620.2" cy="134" r="0.6" fill="#b8f0c0" fill-opacity="0.8"/>
<circle cx="610.4" cy="137.7" r="1.8" fill="#28a040"/>
<circle cx="609.9" cy="137.2" r="0.6" fill="#b8f0c0" fill-opacity="0.8"/>
<circle cx="601.5" cy="139.6" r="1.8" fill="#28a040"/>
<circle cx="601" cy="139.1" r="0.6" fill="#b8f0c0" fill-opacity="0.8"/>
<circle cx="590" cy="140.9" r="1.8" fill="#28a040"/>
<circle cx="589.5" cy="140.4" r="0.6" fill="#b8f0c0" fill-opacity="0.8"/>
<polyline points="669.8,26.4 666.5,42 663.7,58.3 660.6,72.1 657.6,92.2 652.6,100 647.5,106.4 639.2,116 632.2,121.1 624.5,125.6 616.8,128.8 609.2,131.3 600.2,133 592.6,134.2 582.6,136.2 568,138.1 553.4,139.8 538.8,141 524.2,141.7" fill="none" stroke="#6a1a9c" stroke-width="1.3" stroke-linejoin="round"/>
<circle cx="666.5" cy="42" r="1.8" fill="#7a22b0"/>
<circle cx="666" cy="41.5" r="0.6" fill="#f0c8ff" fill-opacity="0.8"/>
<circle cx="663.7" cy="58.3" r="1.8" fill="#7a22b0"/>
<circle cx="663.2" cy="57.8" r="0.6" fill="#f0c8ff" fill-opacity="0.8"/>
<circle cx="660.6" cy="72.1" r="1.8" fill="#7a22b0"/>
<circle cx="660.1" cy="71.6" r="0.6" fill="#f0c8ff" fill-opacity="0.8"/>
<circle cx="657.6" cy="92.2" r="1.8" fill="#7a22b0"/>
<circle cx="657.1" cy="91.7" r="0.6" fill="#f0c8ff" fill-opacity="0.8"/>
<circle cx="652.6" cy="100" r="1.8" fill="#7a22b0"/>
<circle cx="652.1" cy="99.5" r="0.6" fill="#f0c8ff" fill-opacity="0.8"/>
<circle cx="647.5" cy="106.4" r="1.8" fill="#7a22b0"/>
<circle cx="647" cy="105.9" r="0.6" fill="#f0c8ff" fill-opacity="0.8"/>
<circle cx="639.2" cy="116" r="1.8" fill="#7a22b0"/>
<circle cx="638.7" cy="115.5" r="0.6" fill="#f0c8ff" fill-opacity="0.8"/>
<circle cx="632.2" cy="121.1" r="1.8" fill="#7a22b0"/>
<circle cx="631.7" cy="120.6" r="0.6" fill="#f0c8ff" fill-opacity="0.8"/>
<circle cx="624.5" cy="125.6" r="1.8" fill="#7a22b0"/>
<circle cx="624" cy="125.1" r="0.6" fill="#f0c8ff" fill-opacity="0.8"/>
<circle cx="616.8" cy="128.8" r="1.8" fill="#7a22b0"/>
<circle cx="616.3" cy="128.3" r="0.6" fill="#f0c8ff" fill-opacity="0.8"/>
<circle cx="609.2" cy="131.3" r="1.8" fill="#7a22b0"/>
<circle cx="608.7" cy="130.8" r="0.6" fill="#f0c8ff" fill-opacity="0.8"/>
<circle cx="600.2" cy="133" r="1.8" fill="#7a22b0"/>
<circle cx="599.7" cy="132.5" r="0.6" fill="#f0c8ff" fill-opacity="0.8"/>
<circle cx="592.6" cy="134.2" r="1.8" fill="#7a22b0"/>
<circle cx="592.1" cy="133.7" r="0.6" fill="#f0c8ff" fill-opacity="0.8"/>
<circle cx="582.6" cy="136.2" r="1.8" fill="#7a22b0"/>
<circle cx="582.1" cy="135.7" r="0.6" fill="#f0c8ff" fill-opacity="0.8"/>
<circle cx="568" cy="138.1" r="1.8" fill="#7a22b0"/>
<circle cx="567.5" cy="137.6" r="0.6" fill="#f0c8ff" fill-opacity="0.8"/>
<circle cx="553.4" cy="139.8" r="1.8" fill="#7a22b0"/>
<circle cx="552.9" cy="139.3" r="0.6" fill="#f0c8ff" fill-opacity="0.8"/>
<circle cx="538.8" cy="141" r="1.8" fill="#7a22b0"/>
<circle cx="538.3" cy="140.5" r="0.6" fill="#f0c8ff" fill-opacity="0.8"/>
<circle cx="524.2" cy="141.7" r="1.8" fill="#7a22b0"/>
<circle cx="523.7" cy="141.2" r="0.6" fill="#f0c8ff" fill-opacity="0.8"/>
<polyline points="500.1,146.4 509.6,145 524.2,143.5 538.8,142.3 553.4,141 568,139.5 582.6,138 590,137 600.2,136.4 609.2,135.1 618.1,133.9 627.1,131.3 636,127.5 643.7,123 650.1,117.9 655.2,110.2 659.6,101.3 662.6,90.7 664.5,83 665.7,75.3 667,66.5 667.9,56.8 668.8,48.4 669.1,41.5 669.8,26.4" fill="none" stroke="#c24ef2" stroke-width="1.3" stroke-linejoin="round"/>
<circle cx="500.1" cy="146.4" r="1.8" fill="#c24ef2"/>
<circle cx="499.6" cy="145.9" r="0.6" fill="#f0c8ff" fill-opacity="0.8"/>
<circle cx="505.05" cy="145.67" r="1.8" fill="#c24ef2"/>
<circle cx="504.55" cy="145.17" r="0.6" fill="#f0c8ff" fill-opacity="0.8"/>
<circle cx="510" cy="144.96" r="1.8" fill="#c24ef2"/>
<circle cx="509.5" cy="144.46" r="0.6" fill="#f0c8ff" fill-opacity="0.8"/>
<circle cx="514.97" cy="144.45" r="1.8" fill="#c24ef2"/>
<circle cx="514.47" cy="143.95" r="0.6" fill="#f0c8ff" fill-opacity="0.8"/>
<circle cx="519.94" cy="143.94" r="1.8" fill="#c24ef2"/>
<circle cx="519.44" cy="143.44" r="0.6" fill="#f0c8ff" fill-opacity="0.8"/>
<circle cx="524.92" cy="143.44" r="1.8" fill="#c24ef2"/>
<circle cx="524.42" cy="142.94" r="0.6" fill="#f0c8ff" fill-opacity="0.8"/>
<circle cx="529.9" cy="143.03" r="1.8" fill="#c24ef2"/>
<circle cx="529.4" cy="142.53" r="0.6" fill="#f0c8ff" fill-opacity="0.8"/>
<circle cx="534.88" cy="142.62" r="1.8" fill="#c24ef2"/>
<circle cx="534.38" cy="142.12" r="0.6" fill="#f0c8ff" fill-opacity="0.8"/>
<circle cx="539.87" cy="142.2" r="1.8" fill="#c24ef2"/>
<circle cx="539.37" cy="141.7" r="0.6" fill="#f0c8ff" fill-opacity="0.8"/>
<circle cx="544.85" cy="141.76" r="1.8" fill="#c24ef2"/>
<circle cx="544.35" cy="141.26" r="0.6" fill="#f0c8ff" fill-opacity="0.8"/>
<circle cx="549.83" cy="141.32" r="1.8" fill="#c24ef2"/>
<circle cx="549.33" cy="140.82" r="0.6" fill="#f0c8ff" fill-opacity="0.8"/>
<circle cx="554.81" cy="140.86" r="1.8" fill="#c24ef2"/>
<circle cx="554.31" cy="140.36" r="0.6" fill="#f0c8ff" fill-opacity="0.8"/>
<circle cx="559.78" cy="140.34" r="1.8" fill="#c24ef2"/>
<circle cx="559.28" cy="139.84" r="0.6" fill="#f0c8ff" fill-opacity="0.8"/>
<circle cx="564.75" cy="139.83" r="1.8" fill="#c24ef2"/>
<circle cx="564.25" cy="139.33" r="0.6" fill="#f0c8ff" fill-opacity="0.8"/>
<circle cx="569.73" cy="139.32" r="1.8" fill="#c24ef2"/>
<circle cx="569.23" cy="138.82" r="0.6" fill="#f0c8ff" fill-opacity="0.8"/>
<circle cx="574.7" cy="138.81" r="1.8" fill="#c24ef2"/>
<circle cx="574.2" cy="138.31" r="0.6" fill="#f0c8ff" fill-opacity="0.8"/>
<circle cx="579.68" cy="138.3" r="1.8" fill="#c24ef2"/>
<circle cx="579.18" cy="137.8" r="0.6" fill="#f0c8ff" fill-opacity="0.8"/>
<circle cx="584.64" cy="137.72" r="1.8" fill="#c24ef2"/>
<circle cx="584.14" cy="137.22" r="0.6" fill="#f0c8ff" fill-opacity="0.8"/>
<circle cx="589.6" cy="137.05" r="1.8" fill="#c24ef2"/>
<circle cx="589.1" cy="136.55" r="0.6" fill="#f0c8ff" fill-opacity="0.8"/>
<circle cx="600.2" cy="136.4" r="1.8" fill="#c24ef2"/>
<circle cx="599.7" cy="135.9" r="0.6" fill="#f0c8ff" fill-opacity="0.8"/>
<circle cx="609.2" cy="135.1" r="1.8" fill="#c24ef2"/>
<circle cx="608.7" cy="134.6" r="0.6" fill="#f0c8ff" fill-opacity="0.8"/>
<circle cx="618.1" cy="133.9" r="1.8" fill="#c24ef2"/>
<circle cx="617.6" cy="133.4" r="0.6" fill="#f0c8ff" fill-opacity="0.8"/>
<circle cx="627.1" cy="131.3" r="1.8" fill="#c24ef2"/>
<circle cx="626.6" cy="130.8" r="0.6" fill="#f0c8ff" fill-opacity="0.8"/>
<circle cx="636" cy="127.5" r="1.8" fill="#c24ef2"/>
<circle cx="635.5" cy="127" r="0.6" fill="#f0c8ff" fill-opacity="0.8"/>
<circle cx="643.7" cy="123" r="1.8" fill="#c24ef2"/>
<circle cx="643.2" cy="122.5" r="0.6" fill="#f0c8ff" fill-opacity="0.8"/>
<circle cx="650.1" cy="117.9" r="1.8" fill="#c24ef2"/>
<circle cx="649.6" cy="117.4" r="0.6" fill="#f0c8ff" fill-opacity="0.8"/>
<circle cx="655.2" cy="110.2" r="1.8" fill="#c24ef2"/>
<circle cx="654.7" cy="109.7" r="0.6" fill="#f0c8ff" fill-opacity="0.8"/>
<circle cx="659.6" cy="101.3" r="1.8" fill="#c24ef2"/>
<circle cx="659.1" cy="100.8" r="0.6" fill="#f0c8ff" fill-opacity="0.8"/>
<circle cx="662.6" cy="90.7" r="1.8" fill="#c24ef2"/>
<circle cx="662.1" cy="90.2" r="0.6" fill="#f0c8ff" fill-opacity="0.8"/>
<circle cx="664.5" cy="83" r="1.8" fill="#c24ef2"/>
<circle cx="664" cy="82.5" r="0.6" fill="#f0c8ff" fill-opacity="0.8"/>
<circle cx="665.7" cy="75.3" r="1.8" fill="#c24ef2"/>
<circle cx="665.2" cy="74.8" r="0.6" fill="#f0c8ff" fill-opacity="0.8"/>
<circle cx="667" cy="66.5" r="1.8" fill="#c24ef2"/>
<circle cx="666.5" cy="66" r="0.6" fill="#f0c8ff" fill-opacity="0.8"/>
<circle cx="667.9" cy="56.8" r="1.8" fill="#c24ef2"/>
<circle cx="667.4" cy="56.3" r="0.6" fill="#f0c8ff" fill-opacity="0.8"/>
<circle cx="668.8" cy="48.4" r="1.8" fill="#c24ef2"/>
<circle cx="668.3" cy="47.9" r="0.6" fill="#f0c8ff" fill-opacity="0.8"/>
<circle cx="669.1" cy="41.5" r="1.8" fill="#c24ef2"/>
<circle cx="668.6" cy="41" r="0.6" fill="#f0c8ff" fill-opacity="0.8"/>
<circle cx="669.8" cy="26.4" r="1.8" fill="#c24ef2"/>
<circle cx="669.3" cy="25.9" r="0.6" fill="#f0c8ff" fill-opacity="0.8"/>
<line x1="500" y1="26.3" x2="522.6" y2="26.3" stroke="#e41e1e" stroke-width="1.4"/>
<circle cx="511.3" cy="26.3" r="2.0" fill="#d81010"/>
<circle cx="510.8" cy="25.8" r="0.6" fill="#ffb0b0" fill-opacity="0.8"/>
<text x="525" y="29.8" font-size="9.8" text-anchor="start" font-weight="bold" fill="#141414" letter-spacing="-0.2">F127-650</text>
<line x1="500" y1="38.3" x2="522.6" y2="38.3" stroke="#6a1a9c" stroke-width="1.4"/>
<circle cx="511.3" cy="38.3" r="2.0" fill="#c24ef2"/>
<circle cx="510.8" cy="37.8" r="0.6" fill="#f0c8ff" fill-opacity="0.8"/>
<text x="525" y="41.8" font-size="9.8" text-anchor="start" font-weight="bold" fill="#141414" letter-spacing="-0.2">F108-650</text>
<line x1="500" y1="51" x2="522.6" y2="51" stroke="#52aa62" stroke-width="1.4"/>
<circle cx="511.3" cy="51" r="2.0" fill="#28a040"/>
<circle cx="510.8" cy="50.5" r="0.6" fill="#b8f0c0" fill-opacity="0.8"/>
<text x="525" y="54.5" font-size="9.8" text-anchor="start" font-weight="bold" fill="#141414" letter-spacing="-0.2">P123-650</text>
<rect x="48.6" y="204.5" width="182.5" height="147" fill="none" stroke="#111" stroke-width="1.3"/>
<line x1="45.8" y1="230.8" x2="48.6" y2="230.8" stroke="#111" stroke-width="1.3"/>
<text x="42.1" y="235.7" font-size="9.6" text-anchor="end" font-weight="bold" fill="#141414">0.6</text>
<line x1="45.8" y1="265.2" x2="48.6" y2="265.2" stroke="#111" stroke-width="1.3"/>
<text x="42.1" y="270.1" font-size="9.6" text-anchor="end" font-weight="bold" fill="#141414">0.4</text>
<line x1="45.8" y1="299.9" x2="48.6" y2="299.9" stroke="#111" stroke-width="1.3"/>
<text x="42.1" y="304.8" font-size="9.6" text-anchor="end" font-weight="bold" fill="#141414">0.2</text>
<line x1="45.8" y1="333.9" x2="48.6" y2="333.9" stroke="#111" stroke-width="1.3"/>
<text x="42.1" y="338.8" font-size="9.6" text-anchor="end" font-weight="bold" fill="#141414">0.1</text>
<line x1="48.8" y1="351.5" x2="48.8" y2="354.3" stroke="#111" stroke-width="1.3"/>
<text x="0" y="0" font-size="10" text-anchor="middle" font-weight="bold" fill="#141414" transform="translate(48.8 363.8) scale(0.95 1)">0</text>
<line x1="81.95" y1="351.5" x2="81.95" y2="354.3" stroke="#111" stroke-width="1.3"/>
<text x="0" y="0" font-size="10" text-anchor="middle" font-weight="bold" fill="#141414" transform="translate(81.95 363.8) scale(0.95 1)">5</text>
<line x1="115.1" y1="351.5" x2="115.1" y2="354.3" stroke="#111" stroke-width="1.3"/>
<text x="0" y="0" font-size="10" text-anchor="middle" font-weight="bold" fill="#141414" transform="translate(115.1 363.8) scale(0.95 1)">10</text>
<line x1="148.25" y1="351.5" x2="148.25" y2="354.3" stroke="#111" stroke-width="1.3"/>
<text x="0" y="0" font-size="10" text-anchor="middle" font-weight="bold" fill="#141414" transform="translate(148.25 363.8) scale(0.95 1)">15</text>
<line x1="181.4" y1="351.5" x2="181.4" y2="354.3" stroke="#111" stroke-width="1.3"/>
<text x="0" y="0" font-size="10" text-anchor="middle" font-weight="bold" fill="#141414" transform="translate(181.4 363.8) scale(0.95 1)">20</text>
<line x1="214.55" y1="351.5" x2="214.55" y2="354.3" stroke="#111" stroke-width="1.3"/>
<text x="0" y="0" font-size="10" text-anchor="middle" font-weight="bold" fill="#141414" transform="translate(214.55 363.8) scale(0.95 1)">25</text>
<text x="134" y="380.3" font-size="12.5" text-anchor="middle" font-weight="bold" fill="#141414">Pore Diameter (nm)</text>
<text x="0" y="0" font-size="12.8" text-anchor="middle" font-weight="bold" fill="#141414" transform="translate(20 281.5) rotate(-90)">Pore volume (cm<tspan font-size="8.5" dy="-4.3">3</tspan><tspan dy="4.3">/g)</tspan></text>
<text x="98" y="224.4" font-size="13.2" text-anchor="start" font-weight="bold" fill="#141414">(d)</text>
<polyline points="60,333.2 63.8,332.3 66.3,328.2 70.4,315.7 74.3,289 78.5,242.7 81.9,220 85.5,235.5 89.8,287.5 100.9,324.9 122.7,332.2 165.6,334.2" fill="none" stroke="#2a6a2a" stroke-width="1.4" stroke-linejoin="round"/>
<circle cx="60" cy="333.2" r="1.8" fill="#2a6a2a"/>
<circle cx="59.5" cy="332.7" r="0.6" fill="#fff" fill-opacity="0.6"/>
<circle cx="63.8" cy="332.3" r="1.8" fill="#2a6a2a"/>
<circle cx="63.3" cy="331.8" r="0.6" fill="#fff" fill-opacity="0.6"/>
<circle cx="66.3" cy="328.2" r="1.8" fill="#2a6a2a"/>
<circle cx="65.8" cy="327.7" r="0.6" fill="#fff" fill-opacity="0.6"/>
<circle cx="70.4" cy="315.7" r="1.8" fill="#2a6a2a"/>
<circle cx="69.9" cy="315.2" r="0.6" fill="#fff" fill-opacity="0.6"/>
<circle cx="74.3" cy="289" r="1.8" fill="#2a6a2a"/>
<circle cx="73.8" cy="288.5" r="0.6" fill="#fff" fill-opacity="0.6"/>
<circle cx="78.5" cy="242.7" r="1.8" fill="#2a6a2a"/>
<circle cx="78" cy="242.2" r="0.6" fill="#fff" fill-opacity="0.6"/>
<circle cx="81.9" cy="220" r="1.8" fill="#2a6a2a"/>
<circle cx="81.4" cy="219.5" r="0.6" fill="#fff" fill-opacity="0.6"/>
<circle cx="85.5" cy="235.5" r="1.8" fill="#2a6a2a"/>
<circle cx="85" cy="235" r="0.6" fill="#fff" fill-opacity="0.6"/>
<circle cx="89.8" cy="287.5" r="1.8" fill="#2a6a2a"/>
<circle cx="89.3" cy="287" r="0.6" fill="#fff" fill-opacity="0.6"/>
<circle cx="100.9" cy="324.9" r="1.8" fill="#2a6a2a"/>
<circle cx="100.4" cy="324.4" r="0.6" fill="#fff" fill-opacity="0.6"/>
<circle cx="122.7" cy="332.2" r="1.8" fill="#2a6a2a"/>
<circle cx="122.2" cy="331.7" r="0.6" fill="#fff" fill-opacity="0.6"/>
<circle cx="165.6" cy="334.2" r="1.8" fill="#2a6a2a"/>
<circle cx="165.1" cy="333.7" r="0.6" fill="#fff" fill-opacity="0.6"/>
<polyline points="55.5,322.4 57.1,324.9 58.8,329 60.5,326 61.6,310.4 62.1,324 64.6,324.5 68,324.4 72.1,324.9 76.3,325.7 81.2,326.5 87.9,328.5 102,330.8 128.2,329.9 183.8,330.3 225.1,333.2" fill="none" stroke="#e0307a" stroke-width="1.4" stroke-linejoin="round"/>
<circle cx="55.5" cy="322.4" r="1.8" fill="#e0307a"/>
<circle cx="55" cy="321.9" r="0.6" fill="#fff" fill-opacity="0.6"/>
<circle cx="57.1" cy="324.9" r="1.8" fill="#e0307a"/>
<circle cx="56.6" cy="324.4" r="0.6" fill="#fff" fill-opacity="0.6"/>
<circle cx="58.8" cy="329" r="1.8" fill="#e0307a"/>
<circle cx="58.3" cy="328.5" r="0.6" fill="#fff" fill-opacity="0.6"/>
<circle cx="60.5" cy="326" r="1.8" fill="#e0307a"/>
<circle cx="60" cy="325.5" r="0.6" fill="#fff" fill-opacity="0.6"/>
<circle cx="61.6" cy="310.4" r="1.8" fill="#e0307a"/>
<circle cx="61.1" cy="309.9" r="0.6" fill="#fff" fill-opacity="0.6"/>
<circle cx="62.1" cy="324" r="1.8" fill="#e0307a"/>
<circle cx="61.6" cy="323.5" r="0.6" fill="#fff" fill-opacity="0.6"/>
<circle cx="64.6" cy="324.5" r="1.8" fill="#e0307a"/>
<circle cx="64.1" cy="324" r="0.6" fill="#fff" fill-opacity="0.6"/>
<circle cx="68" cy="324.4" r="1.8" fill="#e0307a"/>
<circle cx="67.5" cy="323.9" r="0.6" fill="#fff" fill-opacity="0.6"/>
<circle cx="72.1" cy="324.9" r="1.8" fill="#e0307a"/>
<circle cx="71.6" cy="324.4" r="0.6" fill="#fff" fill-opacity="0.6"/>
<circle cx="76.3" cy="325.7" r="1.8" fill="#e0307a"/>
<circle cx="75.8" cy="325.2" r="0.6" fill="#fff" fill-opacity="0.6"/>
<circle cx="81.2" cy="326.5" r="1.8" fill="#e0307a"/>
<circle cx="80.7" cy="326" r="0.6" fill="#fff" fill-opacity="0.6"/>
<circle cx="87.9" cy="328.5" r="1.8" fill="#e0307a"/>
<circle cx="87.4" cy="328" r="0.6" fill="#fff" fill-opacity="0.6"/>
<circle cx="102" cy="330.8" r="1.8" fill="#e0307a"/>
<circle cx="101.5" cy="330.3" r="0.6" fill="#fff" fill-opacity="0.6"/>
<circle cx="128.2" cy="329.9" r="1.8" fill="#e0307a"/>
<circle cx="127.7" cy="329.4" r="0.6" fill="#fff" fill-opacity="0.6"/>
<circle cx="183.8" cy="330.3" r="1.8" fill="#e0307a"/>
<circle cx="183.3" cy="329.8" r="0.6" fill="#fff" fill-opacity="0.6"/>
<circle cx="225.1" cy="333.2" r="1.8" fill="#e0307a"/>
<circle cx="224.6" cy="332.7" r="0.6" fill="#fff" fill-opacity="0.6"/>
<polyline points="72.6,333.5 77.9,331.5 85.9,324.5 96.5,305.7 104.9,291.4 113.8,299.7 126.2,313.1 148.3,325.7 186.7,334.2" fill="none" stroke="#28287a" stroke-width="1.4" stroke-linejoin="round"/>
<circle cx="72.6" cy="333.5" r="1.8" fill="#28287a"/>
<circle cx="72.1" cy="333" r="0.6" fill="#fff" fill-opacity="0.6"/>
<circle cx="77.9" cy="331.5" r="1.8" fill="#28287a"/>
<circle cx="77.4" cy="331" r="0.6" fill="#fff" fill-opacity="0.6"/>
<circle cx="85.9" cy="324.5" r="1.8" fill="#28287a"/>
<circle cx="85.4" cy="324" r="0.6" fill="#fff" fill-opacity="0.6"/>
<circle cx="96.5" cy="305.7" r="1.8" fill="#28287a"/>
<circle cx="96" cy="305.2" r="0.6" fill="#fff" fill-opacity="0.6"/>
<circle cx="104.9" cy="291.4" r="1.8" fill="#28287a"/>
<circle cx="104.4" cy="290.9" r="0.6" fill="#fff" fill-opacity="0.6"/>
<circle cx="113.8" cy="299.7" r="1.8" fill="#28287a"/>
<circle cx="113.3" cy="299.2" r="0.6" fill="#fff" fill-opacity="0.6"/>
<circle cx="126.2" cy="313.1" r="1.8" fill="#28287a"/>
<circle cx="125.7" cy="312.6" r="0.6" fill="#fff" fill-opacity="0.6"/>
<circle cx="148.3" cy="325.7" r="1.8" fill="#28287a"/>
<circle cx="147.8" cy="325.2" r="0.6" fill="#fff" fill-opacity="0.6"/>
<circle cx="186.7" cy="334.2" r="1.8" fill="#28287a"/>
<circle cx="186.2" cy="333.7" r="0.6" fill="#fff" fill-opacity="0.6"/>
<line x1="151.8" y1="218.9" x2="174.8" y2="218.9" stroke="#2a6a2a" stroke-width="1.7"/>
<circle cx="163.3" cy="218.9" r="1.6" fill="#2a6a2a"/>
<circle cx="162.8" cy="218.4" r="0.5" fill="#fff" fill-opacity="0.8"/>
<text x="0" y="0" font-size="9.5" text-anchor="start" font-weight="bold" fill="#141414" transform="translate(178.1 222.3) scale(0.97 1)">F127-450</text>
<line x1="151.8" y1="230.9" x2="174.8" y2="230.9" stroke="#e0307a" stroke-width="1.7"/>
<circle cx="163.3" cy="230.9" r="1.6" fill="#e0307a"/>
<circle cx="162.8" cy="230.4" r="0.5" fill="#fff" fill-opacity="0.8"/>
<text x="0" y="0" font-size="9.5" text-anchor="start" font-weight="bold" fill="#141414" transform="translate(178.1 234.3) scale(0.97 1)">F108-450</text>
<line x1="151.8" y1="243.1" x2="174.8" y2="243.1" stroke="#28287a" stroke-width="1.7"/>
<circle cx="163.3" cy="243.1" r="1.6" fill="#28287a"/>
<circle cx="162.8" cy="242.6" r="0.5" fill="#fff" fill-opacity="0.8"/>
<text x="0" y="0" font-size="9.5" text-anchor="start" font-weight="bold" fill="#141414" transform="translate(178.1 246.5) scale(0.97 1)">P123-450</text>
<rect x="280.3" y="203.4" width="173.7" height="144.4" fill="none" stroke="#111" stroke-width="1.3"/>
<line x1="277.5" y1="338.5" x2="280.3" y2="338.5" stroke="#111" stroke-width="1.3"/>
<text x="273.7" y="342.2" font-size="9.6" text-anchor="end" font-weight="bold" fill="#141414">0.0</text>
<line x1="277.5" y1="314.04" x2="280.3" y2="314.04" stroke="#111" stroke-width="1.3"/>
<text x="273.7" y="317.74" font-size="9.6" text-anchor="end" font-weight="bold" fill="#141414">0.1</text>
<line x1="277.5" y1="289.58" x2="280.3" y2="289.58" stroke="#111" stroke-width="1.3"/>
<text x="273.7" y="293.28" font-size="9.6" text-anchor="end" font-weight="bold" fill="#141414">0.2</text>
<line x1="277.5" y1="265.12" x2="280.3" y2="265.12" stroke="#111" stroke-width="1.3"/>
<text x="273.7" y="268.82" font-size="9.6" text-anchor="end" font-weight="bold" fill="#141414">0.3</text>
<line x1="277.5" y1="240.66" x2="280.3" y2="240.66" stroke="#111" stroke-width="1.3"/>
<text x="273.7" y="244.36" font-size="9.6" text-anchor="end" font-weight="bold" fill="#141414">0.4</text>
<line x1="277.5" y1="216.2" x2="280.3" y2="216.2" stroke="#111" stroke-width="1.3"/>
<text x="273.7" y="219.9" font-size="9.6" text-anchor="end" font-weight="bold" fill="#141414">0.5</text>
<line x1="280.5" y1="347.8" x2="280.5" y2="350.6" stroke="#111" stroke-width="1.3"/>
<text x="0" y="0" font-size="10" text-anchor="middle" font-weight="bold" fill="#141414" transform="translate(280.5 360) scale(0.95 1)">0</text>
<line x1="311.52" y1="347.8" x2="311.52" y2="350.6" stroke="#111" stroke-width="1.3"/>
<text x="0" y="0" font-size="10" text-anchor="middle" font-weight="bold" fill="#141414" transform="translate(311.52 360) scale(0.95 1)">5</text>
<line x1="342.54" y1="347.8" x2="342.54" y2="350.6" stroke="#111" stroke-width="1.3"/>
<text x="0" y="0" font-size="10" text-anchor="middle" font-weight="bold" fill="#141414" transform="translate(342.54 360) scale(0.95 1)">10</text>
<line x1="373.56" y1="347.8" x2="373.56" y2="350.6" stroke="#111" stroke-width="1.3"/>
<text x="0" y="0" font-size="10" text-anchor="middle" font-weight="bold" fill="#141414" transform="translate(373.56 360) scale(0.95 1)">15</text>
<line x1="404.58" y1="347.8" x2="404.58" y2="350.6" stroke="#111" stroke-width="1.3"/>
<text x="0" y="0" font-size="10" text-anchor="middle" font-weight="bold" fill="#141414" transform="translate(404.58 360) scale(0.95 1)">20</text>
<line x1="435.6" y1="347.8" x2="435.6" y2="350.6" stroke="#111" stroke-width="1.3"/>
<text x="0" y="0" font-size="10" text-anchor="middle" font-weight="bold" fill="#141414" transform="translate(435.6 360) scale(0.95 1)">25</text>
<text x="372.6" y="375" font-size="11.9" text-anchor="middle" font-weight="bold" fill="#141414">Pore Diameter (nm)</text>
<text x="0" y="0" font-size="12.1" text-anchor="middle" font-weight="bold" fill="#141414" transform="translate(251.2 279.5) rotate(-90)">Pore volume (cm<tspan font-size="8.3" dy="-4.2">3</tspan><tspan dy="4.2">/g)</tspan></text>
<text x="322" y="224.5" font-size="13" text-anchor="start" font-weight="bold" fill="#141414">(e)</text>
<polyline points="292.5,335.7 293.3,333.2 295.3,324 297.5,303.3 301.1,270.4 303.6,268 305.2,220.2 310.7,255 317.4,313.3 326.9,334.9 344.8,338.4 383.7,338.4" fill="none" stroke="#cc2060" stroke-width="1.5" stroke-linejoin="round"/>
<circle cx="292.5" cy="335.7" r="1.4" fill="#e890b4" stroke="#cc2060" stroke-width="0.9"/>
<circle cx="293.3" cy="333.2" r="1.4" fill="#e890b4" stroke="#cc2060" stroke-width="0.9"/>
<circle cx="295.3" cy="324" r="1.4" fill="#e890b4" stroke="#cc2060" stroke-width="0.9"/>
<circle cx="297.5" cy="303.3" r="1.4" fill="#e890b4" stroke="#cc2060" stroke-width="0.9"/>
<circle cx="301.1" cy="270.4" r="1.4" fill="#e890b4" stroke="#cc2060" stroke-width="0.9"/>
<circle cx="303.6" cy="268" r="1.4" fill="#e890b4" stroke="#cc2060" stroke-width="0.9"/>
<circle cx="305.2" cy="220.2" r="1.4" fill="#e890b4" stroke="#cc2060" stroke-width="0.9"/>
<circle cx="310.7" cy="255" r="1.4" fill="#e890b4" stroke="#cc2060" stroke-width="0.9"/>
<circle cx="317.4" cy="313.3" r="1.4" fill="#e890b4" stroke="#cc2060" stroke-width="0.9"/>
<circle cx="326.9" cy="334.9" r="1.4" fill="#e890b4" stroke="#cc2060" stroke-width="0.9"/>
<circle cx="344.8" cy="338.4" r="1.4" fill="#e890b4" stroke="#cc2060" stroke-width="0.9"/>
<circle cx="383.7" cy="338.4" r="1.4" fill="#e890b4" stroke="#cc2060" stroke-width="0.9"/>
<polyline points="290.8,338.5 295,337.4 297.5,335 300,332.4 309.1,310.3 318.6,297.5 330.7,313.3 351.8,334 383.7,338.4" fill="none" stroke="#2466d4" stroke-width="1.5" stroke-linejoin="round"/>
<circle cx="290.8" cy="338.5" r="1.4" fill="#98bcf0" stroke="#2466d4" stroke-width="0.9"/>
<circle cx="295" cy="337.4" r="1.4" fill="#98bcf0" stroke="#2466d4" stroke-width="0.9"/>
<circle cx="297.5" cy="335" r="1.4" fill="#98bcf0" stroke="#2466d4" stroke-width="0.9"/>
<circle cx="300" cy="332.4" r="1.4" fill="#98bcf0" stroke="#2466d4" stroke-width="0.9"/>
<circle cx="309.1" cy="310.3" r="1.4" fill="#98bcf0" stroke="#2466d4" stroke-width="0.9"/>
<circle cx="318.6" cy="297.5" r="1.4" fill="#98bcf0" stroke="#2466d4" stroke-width="0.9"/>
<circle cx="330.7" cy="313.3" r="1.4" fill="#98bcf0" stroke="#2466d4" stroke-width="0.9"/>
<circle cx="351.8" cy="334" r="1.4" fill="#98bcf0" stroke="#2466d4" stroke-width="0.9"/>
<circle cx="383.7" cy="338.4" r="1.4" fill="#98bcf0" stroke="#2466d4" stroke-width="0.9"/>
<polyline points="286.3,330.2 288.3,332.9 290,334 292,313.3 292,329 293.3,329 296.6,326.6 301.6,324.6 310.8,323.2 319.1,325.2 334.2,328.9 362.8,329.9 414.8,331.8 449,337.8" fill="none" stroke="#1c6a5a" stroke-width="1.5" stroke-linejoin="round"/>
<circle cx="286.3" cy="330.2" r="1.4" fill="#80b8a8" stroke="#1c6a5a" stroke-width="0.9"/>
<circle cx="288.3" cy="332.9" r="1.4" fill="#80b8a8" stroke="#1c6a5a" stroke-width="0.9"/>
<circle cx="290" cy="334" r="1.4" fill="#80b8a8" stroke="#1c6a5a" stroke-width="0.9"/>
<circle cx="292" cy="313.3" r="1.4" fill="#80b8a8" stroke="#1c6a5a" stroke-width="0.9"/>
<circle cx="292" cy="329" r="1.4" fill="#80b8a8" stroke="#1c6a5a" stroke-width="0.9"/>
<circle cx="293.3" cy="329" r="1.4" fill="#80b8a8" stroke="#1c6a5a" stroke-width="0.9"/>
<circle cx="296.6" cy="326.6" r="1.4" fill="#80b8a8" stroke="#1c6a5a" stroke-width="0.9"/>
<circle cx="301.6" cy="324.6" r="1.4" fill="#80b8a8" stroke="#1c6a5a" stroke-width="0.9"/>
<circle cx="310.8" cy="323.2" r="1.4" fill="#80b8a8" stroke="#1c6a5a" stroke-width="0.9"/>
<circle cx="319.1" cy="325.2" r="1.4" fill="#80b8a8" stroke="#1c6a5a" stroke-width="0.9"/>
<circle cx="334.2" cy="328.9" r="1.4" fill="#80b8a8" stroke="#1c6a5a" stroke-width="0.9"/>
<circle cx="362.8" cy="329.9" r="1.4" fill="#80b8a8" stroke="#1c6a5a" stroke-width="0.9"/>
<circle cx="414.8" cy="331.8" r="1.4" fill="#80b8a8" stroke="#1c6a5a" stroke-width="0.9"/>
<circle cx="449" cy="337.8" r="1.4" fill="#80b8a8" stroke="#1c6a5a" stroke-width="0.9"/>
<line x1="382.5" y1="214.2" x2="404.4" y2="214.2" stroke="#cc2060" stroke-width="1.6"/>
<circle cx="393.45" cy="214.2" r="1.6" fill="#cc2060"/>
<circle cx="392.95" cy="213.7" r="0.5" fill="#fff" fill-opacity="0.8"/>
<text x="0" y="0" font-size="9.8" text-anchor="start" font-weight="bold" fill="#141414" transform="translate(406.8 217.8) scale(0.92 1)">F127-550</text>
<line x1="382.5" y1="226" x2="404.4" y2="226" stroke="#2466d4" stroke-width="1.6"/>
<circle cx="393.45" cy="226" r="1.6" fill="#2466d4"/>
<circle cx="392.95" cy="225.5" r="0.5" fill="#fff" fill-opacity="0.8"/>
<text x="0" y="0" font-size="9.8" text-anchor="start" font-weight="bold" fill="#141414" transform="translate(406.8 229.6) scale(0.92 1)">F108-550</text>
<line x1="382.5" y1="238.1" x2="404.4" y2="238.1" stroke="#1c6a5a" stroke-width="1.6"/>
<circle cx="393.45" cy="238.1" r="1.6" fill="#1c6a5a"/>
<circle cx="392.95" cy="237.6" r="0.5" fill="#fff" fill-opacity="0.8"/>
<text x="0" y="0" font-size="9.8" text-anchor="start" font-weight="bold" fill="#141414" transform="translate(406.8 241.7) scale(0.92 1)">P123-550</text>
<rect x="506.4" y="203.6" width="169" height="146.5" fill="none" stroke="#111" stroke-width="1.3"/>
<line x1="503.6" y1="218.9" x2="506.4" y2="218.9" stroke="#111" stroke-width="1.3"/>
<text x="499.2" y="223.4" font-size="9.6" text-anchor="end" font-weight="bold" fill="#141414">0.16</text>
<line x1="503.6" y1="248.13" x2="506.4" y2="248.13" stroke="#111" stroke-width="1.3"/>
<text x="499.2" y="252.63" font-size="9.6" text-anchor="end" font-weight="bold" fill="#141414">0.12</text>
<line x1="503.6" y1="277.35" x2="506.4" y2="277.35" stroke="#111" stroke-width="1.3"/>
<text x="499.2" y="281.85" font-size="9.6" text-anchor="end" font-weight="bold" fill="#141414">0.8</text>
<line x1="503.6" y1="306.58" x2="506.4" y2="306.58" stroke="#111" stroke-width="1.3"/>
<text x="499.2" y="311.08" font-size="9.6" text-anchor="end" font-weight="bold" fill="#141414">0.4</text>
<line x1="503.6" y1="335.8" x2="506.4" y2="335.8" stroke="#111" stroke-width="1.3"/>
<text x="499.2" y="340.3" font-size="9.6" text-anchor="end" font-weight="bold" fill="#141414">0.0</text>
<line x1="506.1" y1="350.1" x2="506.1" y2="352.9" stroke="#111" stroke-width="1.3"/>
<text x="0" y="0" font-size="10" text-anchor="middle" font-weight="bold" fill="#141414" transform="translate(506.1 363.5) scale(0.88 1)">0</text>
<line x1="544.93" y1="350.1" x2="544.93" y2="352.9" stroke="#111" stroke-width="1.3"/>
<text x="0" y="0" font-size="10" text-anchor="middle" font-weight="bold" fill="#141414" transform="translate(544.93 363.5) scale(0.88 1)">5</text>
<line x1="583.75" y1="350.1" x2="583.75" y2="352.9" stroke="#111" stroke-width="1.3"/>
<text x="0" y="0" font-size="10" text-anchor="middle" font-weight="bold" fill="#141414" transform="translate(583.75 363.5) scale(0.88 1)">10</text>
<line x1="622.58" y1="350.1" x2="622.58" y2="352.9" stroke="#111" stroke-width="1.3"/>
<text x="0" y="0" font-size="10" text-anchor="middle" font-weight="bold" fill="#141414" transform="translate(622.58 363.5) scale(0.88 1)">15</text>
<line x1="661.4" y1="350.1" x2="661.4" y2="352.9" stroke="#111" stroke-width="1.3"/>
<text x="0" y="0" font-size="10" text-anchor="middle" font-weight="bold" fill="#141414" transform="translate(661.4 363.5) scale(0.88 1)">20</text>
<text x="591" y="378.4" font-size="11.7" text-anchor="middle" font-weight="bold" fill="#141414">Pore Diameter (nm)</text>
<text x="0" y="0" font-size="12.2" text-anchor="middle" font-weight="bold" fill="#141414" transform="translate(475.5 277.4) rotate(-90)">Pore volume (cm<tspan font-size="8.3" dy="-4.2">3</tspan><tspan dy="4.2">/g)</tspan></text>
<text x="567" y="224.8" font-size="13" text-anchor="start" font-weight="bold" fill="#141414">(f)</text>
<polyline points="520,303.6 521.5,333.3 523.4,331 525.7,327.2 527.8,320.8 531.5,308 535.9,280 542.2,216.1 553.9,221.5 571.4,294.9 605.6,325.9 670.1,335.6" fill="none" stroke="#e82020" stroke-width="1.4" stroke-linejoin="round"/>
<circle cx="520" cy="303.6" r="2.3" fill="#ee2020"/>
<circle cx="519.5" cy="303.1" r="0.7" fill="#fff" fill-opacity="0.6"/>
<circle cx="521.5" cy="333.3" r="2.3" fill="#ee2020"/>
<circle cx="521" cy="332.8" r="0.7" fill="#fff" fill-opacity="0.6"/>
<circle cx="523.4" cy="331" r="2.3" fill="#ee2020"/>
<circle cx="522.9" cy="330.5" r="0.7" fill="#fff" fill-opacity="0.6"/>
<circle cx="525.7" cy="327.2" r="2.3" fill="#ee2020"/>
<circle cx="525.2" cy="326.7" r="0.7" fill="#fff" fill-opacity="0.6"/>
<circle cx="527.8" cy="320.8" r="2.3" fill="#ee2020"/>
<circle cx="527.3" cy="320.3" r="0.7" fill="#fff" fill-opacity="0.6"/>
<circle cx="531.5" cy="308" r="2.3" fill="#ee2020"/>
<circle cx="531" cy="307.5" r="0.7" fill="#fff" fill-opacity="0.6"/>
<circle cx="535.9" cy="280" r="2.3" fill="#ee2020"/>
<circle cx="535.4" cy="279.5" r="0.7" fill="#fff" fill-opacity="0.6"/>
<circle cx="542.2" cy="216.1" r="2.3" fill="#ee2020"/>
<circle cx="541.7" cy="215.6" r="0.7" fill="#fff" fill-opacity="0.6"/>
<circle cx="553.9" cy="221.5" r="2.3" fill="#ee2020"/>
<circle cx="553.4" cy="221" r="0.7" fill="#fff" fill-opacity="0.6"/>
<circle cx="571.4" cy="294.9" r="2.3" fill="#ee2020"/>
<circle cx="570.9" cy="294.4" r="0.7" fill="#fff" fill-opacity="0.6"/>
<circle cx="605.6" cy="325.9" r="2.3" fill="#ee2020"/>
<circle cx="605.1" cy="325.4" r="0.7" fill="#fff" fill-opacity="0.6"/>
<circle cx="670.1" cy="335.6" r="2.3" fill="#ee2020"/>
<circle cx="669.6" cy="335.1" r="0.7" fill="#fff" fill-opacity="0.6"/>
<polyline points="528.2,334.4 531.1,332.3 535.9,328.5 543,318.9 553.7,299.2 569.8,273.5 590.7,271.8 611.4,307.5 662,335.6" fill="none" stroke="#601890" stroke-width="1.4" stroke-linejoin="round"/>
<circle cx="528.2" cy="334.4" r="2.3" fill="#6e1e9e"/>
<circle cx="527.7" cy="333.9" r="0.7" fill="#fff" fill-opacity="0.6"/>
<circle cx="531.1" cy="332.3" r="2.3" fill="#6e1e9e"/>
<circle cx="530.6" cy="331.8" r="0.7" fill="#fff" fill-opacity="0.6"/>
<circle cx="535.9" cy="328.5" r="2.3" fill="#6e1e9e"/>
<circle cx="535.4" cy="328" r="0.7" fill="#fff" fill-opacity="0.6"/>
<circle cx="543" cy="318.9" r="2.3" fill="#6e1e9e"/>
<circle cx="542.5" cy="318.4" r="0.7" fill="#fff" fill-opacity="0.6"/>
<circle cx="553.7" cy="299.2" r="2.3" fill="#6e1e9e"/>
<circle cx="553.2" cy="298.7" r="0.7" fill="#fff" fill-opacity="0.6"/>
<circle cx="569.8" cy="273.5" r="2.3" fill="#6e1e9e"/>
<circle cx="569.3" cy="273" r="0.7" fill="#fff" fill-opacity="0.6"/>
<circle cx="590.7" cy="271.8" r="2.3" fill="#6e1e9e"/>
<circle cx="590.2" cy="271.3" r="0.7" fill="#fff" fill-opacity="0.6"/>
<circle cx="611.4" cy="307.5" r="2.3" fill="#6e1e9e"/>
<circle cx="610.9" cy="307" r="0.7" fill="#fff" fill-opacity="0.6"/>
<circle cx="662" cy="335.6" r="2.3" fill="#6e1e9e"/>
<circle cx="661.5" cy="335.1" r="0.7" fill="#fff" fill-opacity="0.6"/>
<polyline points="534.5,333.3 541.1,327 552.6,304.5 569.8,284.4 594.1,308.6 642.2,334.7" fill="none" stroke="#20a020" stroke-width="1.4" stroke-linejoin="round"/>
<circle cx="534.5" cy="333.3" r="2.3" fill="#22b022"/>
<circle cx="534" cy="332.8" r="0.7" fill="#fff" fill-opacity="0.6"/>
<circle cx="541.1" cy="327" r="2.3" fill="#22b022"/>
<circle cx="540.6" cy="326.5" r="0.7" fill="#fff" fill-opacity="0.6"/>
<circle cx="552.6" cy="304.5" r="2.3" fill="#22b022"/>
<circle cx="552.1" cy="304" r="0.7" fill="#fff" fill-opacity="0.6"/>
<circle cx="569.8" cy="284.4" r="2.3" fill="#22b022"/>
<circle cx="569.3" cy="283.9" r="0.7" fill="#fff" fill-opacity="0.6"/>
<circle cx="594.1" cy="308.6" r="2.3" fill="#22b022"/>
<circle cx="593.6" cy="308.1" r="0.7" fill="#fff" fill-opacity="0.6"/>
<circle cx="642.2" cy="334.7" r="2.3" fill="#22b022"/>
<circle cx="641.7" cy="334.2" r="0.7" fill="#fff" fill-opacity="0.6"/>
<line x1="610.1" y1="214.2" x2="631.1" y2="214.2" stroke="#e82020" stroke-width="1.6"/>
<circle cx="620.6" cy="214.2" r="2.2" fill="#ee2020"/>
<circle cx="620.1" cy="213.7" r="0.6" fill="#fff" fill-opacity="0.8"/>
<text x="0" y="0" font-size="10.2" text-anchor="start" font-weight="bold" fill="#141414" transform="translate(633.8 217.8) scale(0.87 1)">F127-650</text>
<line x1="610.1" y1="226.4" x2="631.1" y2="226.4" stroke="#601890" stroke-width="1.6"/>
<circle cx="620.6" cy="226.4" r="2.2" fill="#6e1e9e"/>
<circle cx="620.1" cy="225.9" r="0.6" fill="#fff" fill-opacity="0.8"/>
<text x="0" y="0" font-size="10.2" text-anchor="start" font-weight="bold" fill="#141414" transform="translate(633.8 230) scale(0.87 1)">F108-650</text>
<line x1="610.1" y1="238.5" x2="631.1" y2="238.5" stroke="#20a020" stroke-width="1.6"/>
<circle cx="620.6" cy="238.5" r="2.2" fill="#22b022"/>
<circle cx="620.1" cy="238" r="0.6" fill="#fff" fill-opacity="0.8"/>
<text x="0" y="0" font-size="10.2" text-anchor="start" font-weight="bold" fill="#141414" transform="translate(633.8 242.1) scale(0.87 1)">P123-650</text>
</svg></body></html>
